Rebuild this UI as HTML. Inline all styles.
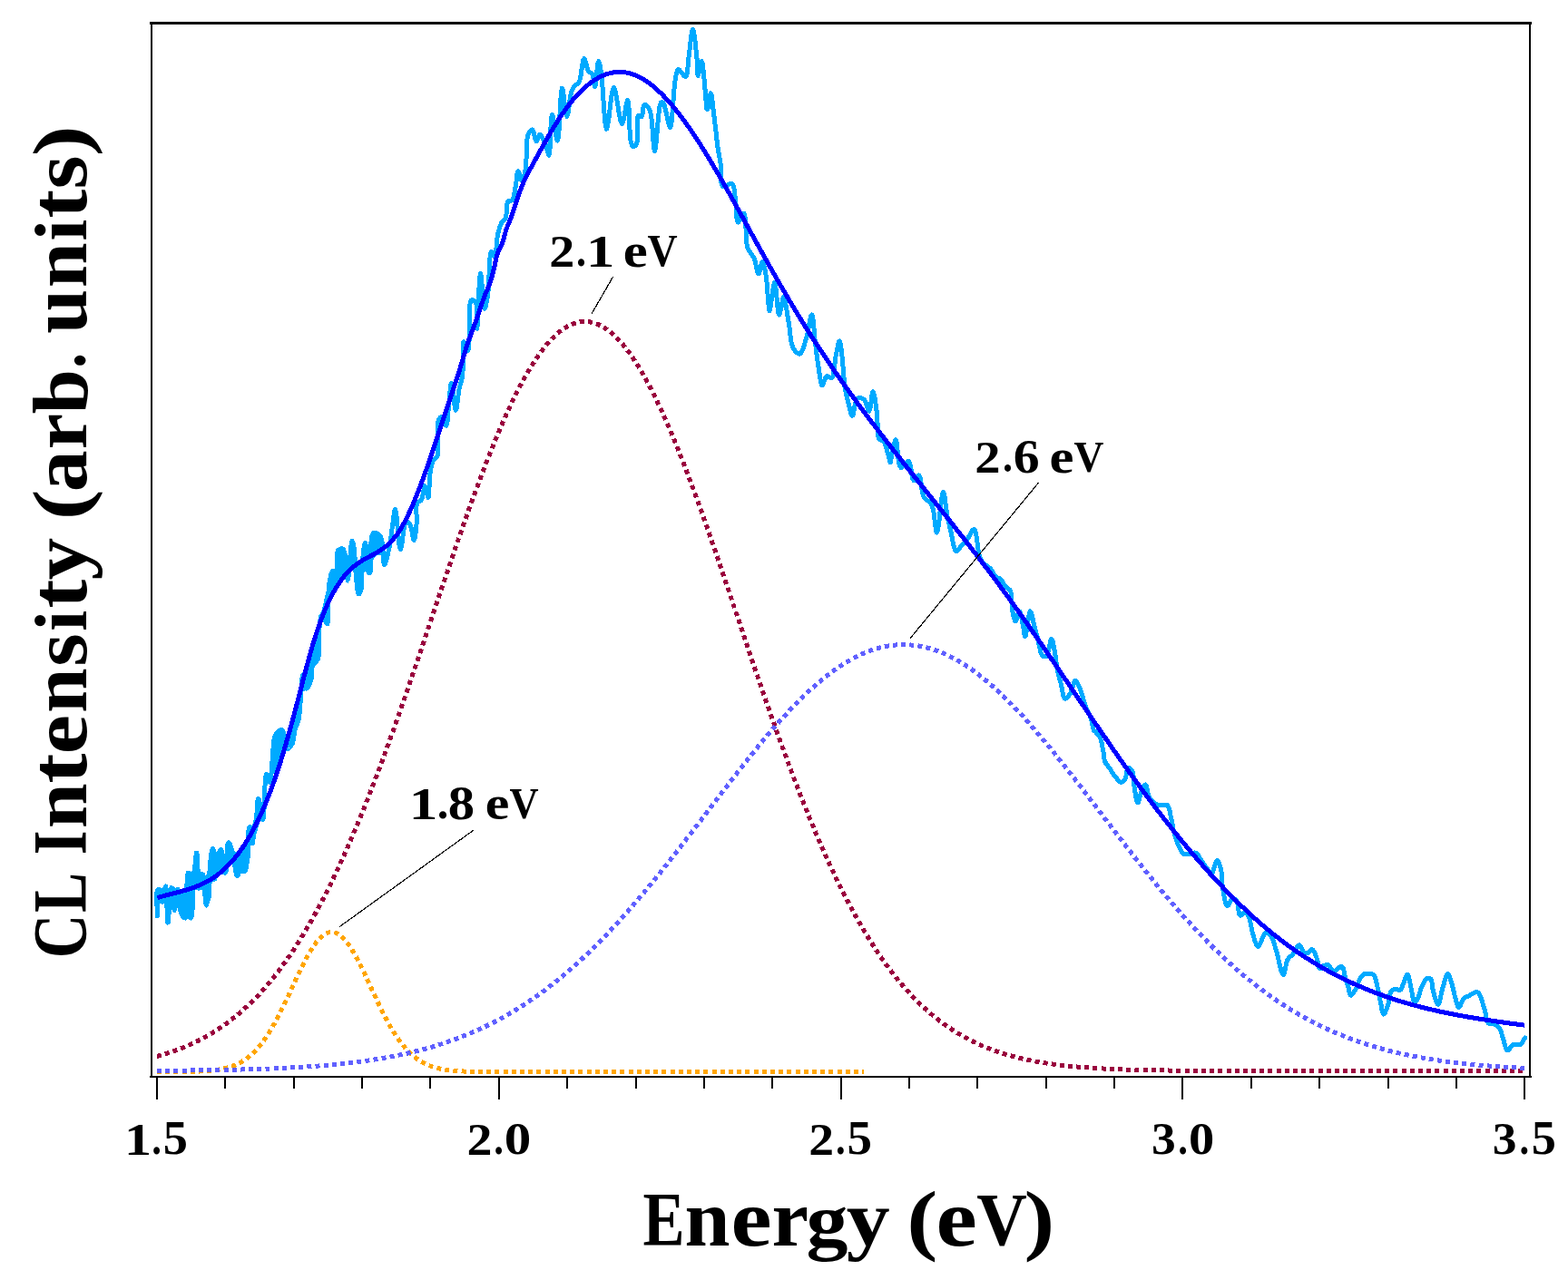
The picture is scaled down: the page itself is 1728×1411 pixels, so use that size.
<!DOCTYPE html>
<html><head><meta charset="utf-8"><title>CL spectrum</title><style>html,body{margin:0;padding:0;background:#fff;}svg{display:block;}</style></head><body>
<svg width="1728" height="1411" viewBox="0 0 1728 1411">
<rect x="0" y="0" width="1728" height="1411" fill="#ffffff"/>
<path d="M173.0 1164.3 L174.0 1164.1 L175.0 1163.8 L176.0 1163.5 L177.0 1163.2 L178.0 1162.9 L179.0 1162.6 L180.0 1162.3 L181.0 1162.0 L182.0 1161.7 L183.0 1161.4 L184.0 1161.1 L185.0 1160.8 L186.0 1160.5 L187.0 1160.2 L188.0 1159.8 L189.0 1159.5 L190.0 1159.1 L191.0 1158.8 L192.0 1158.4 L193.0 1158.1 L194.0 1157.7 L195.0 1157.4 L196.0 1157.0 L197.0 1156.6 L198.0 1156.2 L199.0 1155.9 L200.0 1155.5 L201.0 1155.1 L202.0 1154.7 L203.0 1154.3 L204.0 1153.8 L205.0 1153.4 L206.0 1153.0 L207.0 1152.6 L208.0 1152.1 L209.0 1151.7 L210.0 1151.2 L211.0 1150.8 L212.0 1150.3 L213.0 1149.9 L214.0 1149.4 L215.0 1148.9 L216.0 1148.4 L217.0 1148.0 L218.0 1147.5 L219.0 1147.0 L220.0 1146.4 L221.0 1145.9 L222.0 1145.4 L223.0 1144.9 L224.0 1144.3 L225.0 1143.8 L226.0 1143.3 L227.0 1142.7 L228.0 1142.1 L229.0 1141.6 L230.0 1141.0 L231.0 1140.4 L232.0 1139.8 L233.0 1139.2 L234.0 1138.6 L235.0 1138.0 L236.0 1137.4 L237.0 1136.8 L238.0 1136.1 L239.0 1135.5 L240.0 1134.8 L241.0 1134.2 L242.0 1133.5 L243.0 1132.8 L244.0 1132.2 L245.0 1131.5 L246.0 1130.8 L247.0 1130.1 L248.0 1129.3 L249.0 1128.6 L250.0 1127.9 L251.0 1127.2 L252.0 1126.4 L253.0 1125.7 L254.0 1124.9 L255.0 1124.1 L256.0 1123.3 L257.0 1122.5 L258.0 1121.7 L259.0 1120.9 L260.0 1120.1 L261.0 1119.3 L262.0 1118.5 L263.0 1117.6 L264.0 1116.8 L265.0 1115.9 L266.0 1115.0 L267.0 1114.1 L268.0 1113.3 L269.0 1112.4 L270.0 1111.4 L271.0 1110.5 L272.0 1109.6 L273.0 1108.7 L274.0 1107.7 L275.0 1106.7 L276.0 1105.8 L277.0 1104.8 L278.0 1103.8 L279.0 1102.8 L280.0 1101.8 L281.0 1100.8 L282.0 1099.7 L283.0 1098.7 L284.0 1097.7 L285.0 1096.6 L286.0 1095.5 L287.0 1094.4 L288.0 1093.3 L289.0 1092.2 L290.0 1091.1 L291.0 1090.0 L292.0 1088.9 L293.0 1087.7 L294.0 1086.5 L295.0 1085.4 L296.0 1084.2 L297.0 1083.0 L298.0 1081.8 L299.0 1080.6 L300.0 1079.3 L301.0 1078.1 L302.0 1076.9 L303.0 1075.6 L304.0 1074.3 L305.0 1073.0 L306.0 1071.7 L307.0 1070.4 L308.0 1069.1 L309.0 1067.8 L310.0 1066.4 L311.0 1065.1 L312.0 1063.7 L313.0 1062.3 L314.0 1060.9 L315.0 1059.5 L316.0 1058.1 L317.0 1056.7 L318.0 1055.2 L319.0 1053.8 L320.0 1052.3 L321.0 1050.8 L322.0 1049.4 L323.0 1047.9 L324.0 1046.3 L325.0 1044.8 L326.0 1043.3 L327.0 1041.7 L328.0 1040.1 L329.0 1038.6 L330.0 1037.0 L331.0 1035.4 L332.0 1033.8 L333.0 1032.1 L334.0 1030.5 L335.0 1028.8 L336.0 1027.2 L337.0 1025.5 L338.0 1023.8 L339.0 1022.1 L340.0 1020.4 L341.0 1018.6 L342.0 1016.9 L343.0 1015.1 L344.0 1013.4 L345.0 1011.6 L346.0 1009.8 L347.0 1008.0 L348.0 1006.1 L349.0 1004.3 L350.0 1002.5 L351.0 1000.6 L352.0 998.7 L353.0 996.8 L354.0 994.9 L355.0 993.0 L356.0 991.1 L357.0 989.2 L358.0 987.2 L359.0 985.2 L360.0 983.3 L361.0 981.3 L362.0 979.3 L363.0 977.2 L364.0 975.2 L365.0 973.2 L366.0 971.1 L367.0 969.0 L368.0 966.9 L369.0 964.9 L370.0 962.7 L371.0 960.6 L372.0 958.5 L373.0 956.3 L374.0 954.2 L375.0 952.0 L376.0 949.8 L377.0 947.6 L378.0 945.4 L379.0 943.2 L380.0 941.0 L381.0 938.7 L382.0 936.4 L383.0 934.2 L384.0 931.9 L385.0 929.6 L386.0 927.3 L387.0 925.0 L388.0 922.6 L389.0 920.3 L390.0 917.9 L391.0 915.5 L392.0 913.2 L393.0 910.8 L394.0 908.4 L395.0 905.9 L396.0 903.5 L397.0 901.1 L398.0 898.6 L399.0 896.1 L400.0 893.7 L401.0 891.2 L402.0 888.7 L403.0 886.2 L404.0 883.7 L405.0 881.1 L406.0 878.6 L407.0 876.0 L408.0 873.5 L409.0 870.9 L410.0 868.3 L411.0 865.7 L412.0 863.1 L413.0 860.5 L414.0 857.9 L415.0 855.2 L416.0 852.6 L417.0 849.9 L418.0 847.2 L419.0 844.6 L420.0 841.9 L421.0 839.2 L422.0 836.5 L423.0 833.8 L424.0 831.0 L425.0 828.3 L426.0 825.6 L427.0 822.8 L428.0 820.1 L429.0 817.3 L430.0 814.5 L431.0 811.7 L432.0 809.0 L433.0 806.2 L434.0 803.4 L435.0 800.5 L436.0 797.7 L437.0 794.9 L438.0 792.1 L439.0 789.2 L440.0 786.4 L441.0 783.5 L442.0 780.6 L443.0 777.8 L444.0 774.9 L445.0 772.0 L446.0 769.1 L447.0 766.2 L448.0 763.3 L449.0 760.4 L450.0 757.5 L451.0 754.6 L452.0 751.7 L453.0 748.8 L454.0 745.8 L455.0 742.9 L456.0 740.0 L457.0 737.0 L458.0 734.1 L459.0 731.1 L460.0 728.2 L461.0 725.2 L462.0 722.3 L463.0 719.3 L464.0 716.4 L465.0 713.4 L466.0 710.4 L467.0 707.5 L468.0 704.5 L469.0 701.5 L470.0 698.5 L471.0 695.6 L472.0 692.6 L473.0 689.6 L474.0 686.6 L475.0 683.6 L476.0 680.7 L477.0 677.7 L478.0 674.7 L479.0 671.7 L480.0 668.7 L481.0 665.8 L482.0 662.8 L483.0 659.8 L484.0 656.8 L485.0 653.9 L486.0 650.9 L487.0 647.9 L488.0 644.9 L489.0 642.0 L490.0 639.0 L491.0 636.1 L492.0 633.1 L493.0 630.2 L494.0 627.2 L495.0 624.3 L496.0 621.3 L497.0 618.4 L498.0 615.5 L499.0 612.5 L500.0 609.6 L501.0 606.7 L502.0 603.8 L503.0 600.9 L504.0 598.0 L505.0 595.1 L506.0 592.2 L507.0 589.3 L508.0 586.4 L509.0 583.6 L510.0 580.7 L511.0 577.9 L512.0 575.0 L513.0 572.2 L514.0 569.4 L515.0 566.5 L516.0 563.7 L517.0 560.9 L518.0 558.1 L519.0 555.4 L520.0 552.6 L521.0 549.8 L522.0 547.1 L523.0 544.3 L524.0 541.6 L525.0 538.9 L526.0 536.2 L527.0 533.5 L528.0 530.8 L529.0 528.1 L530.0 525.5 L531.0 522.8 L532.0 520.2 L533.0 517.6 L534.0 515.0 L535.0 512.4 L536.0 509.8 L537.0 507.2 L538.0 504.7 L539.0 502.1 L540.0 499.6 L541.0 497.1 L542.0 494.6 L543.0 492.1 L544.0 489.6 L545.0 487.2 L546.0 484.8 L547.0 482.3 L548.0 479.9 L549.0 477.6 L550.0 475.2 L551.0 472.8 L552.0 470.5 L553.0 468.2 L554.0 465.9 L555.0 463.6 L556.0 461.4 L557.0 459.1 L558.0 456.9 L559.0 454.7 L560.0 452.5 L561.0 450.3 L562.0 448.2 L563.0 446.1 L564.0 443.9 L565.0 441.9 L566.0 439.8 L567.0 437.7 L568.0 435.7 L569.0 433.7 L570.0 431.7 L571.0 429.8 L572.0 427.8 L573.0 425.9 L574.0 424.0 L575.0 422.1 L576.0 420.3 L577.0 418.4 L578.0 416.6 L579.0 414.8 L580.0 413.1 L581.0 411.3 L582.0 409.6 L583.0 407.9 L584.0 406.3 L585.0 404.6 L586.0 403.0 L587.0 401.4 L588.0 399.8 L589.0 398.3 L590.0 396.8 L591.0 395.3 L592.0 393.8 L593.0 392.3 L594.0 390.9 L595.0 389.5 L596.0 388.1 L597.0 386.8 L598.0 385.5 L599.0 384.2 L600.0 382.9 L601.0 381.7 L602.0 380.5 L603.0 379.3 L604.0 378.1 L605.0 377.0 L606.0 375.9 L607.0 374.8 L608.0 373.7 L609.0 372.7 L610.0 371.7 L611.0 370.7 L612.0 369.8 L613.0 368.9 L614.0 368.0 L615.0 367.1 L616.0 366.3 L617.0 365.5 L618.0 364.7 L619.0 363.9 L620.0 363.2 L621.0 362.5 L622.0 361.9 L623.0 361.2 L624.0 360.6 L625.0 360.0 L626.0 359.5 L627.0 359.0 L628.0 358.5 L629.0 358.0 L630.0 357.6 L631.0 357.1 L632.0 356.8 L633.0 356.4 L634.0 356.1 L635.0 355.8 L636.0 355.5 L637.0 355.3 L638.0 355.1 L639.0 354.9 L640.0 354.8 L641.0 354.7 L642.0 354.6 L643.0 354.5 L644.0 354.5 L645.0 354.5 L646.0 354.5 L647.0 354.6 L648.0 354.7 L649.0 354.8 L650.0 354.9 L651.0 355.1 L652.0 355.3 L653.0 355.6 L654.0 355.8 L655.0 356.1 L656.0 356.4 L657.0 356.8 L658.0 357.2 L659.0 357.6 L660.0 358.0 L661.0 358.5 L662.0 359.0 L663.0 359.5 L664.0 360.1 L665.0 360.6 L666.0 361.2 L667.0 361.9 L668.0 362.6 L669.0 363.2 L670.0 364.0 L671.0 364.7 L672.0 365.5 L673.0 366.3 L674.0 367.1 L675.0 368.0 L676.0 368.9 L677.0 369.8 L678.0 370.8 L679.0 371.7 L680.0 372.7 L681.0 373.8 L682.0 374.8 L683.0 375.9 L684.0 377.0 L685.0 378.2 L686.0 379.3 L687.0 380.5 L688.0 381.7 L689.0 383.0 L690.0 384.2 L691.0 385.5 L692.0 386.9 L693.0 388.2 L694.0 389.6 L695.0 391.0 L696.0 392.4 L697.0 393.9 L698.0 395.3 L699.0 396.8 L700.0 398.4 L701.0 399.9 L702.0 401.5 L703.0 403.1 L704.0 404.7 L705.0 406.4 L706.0 408.0 L707.0 409.7 L708.0 411.4 L709.0 413.2 L710.0 414.9 L711.0 416.7 L712.0 418.5 L713.0 420.4 L714.0 422.2 L715.0 424.1 L716.0 426.0 L717.0 427.9 L718.0 429.9 L719.0 431.8 L720.0 433.8 L721.0 435.8 L722.0 437.8 L723.0 439.9 L724.0 442.0 L725.0 444.1 L726.0 446.2 L727.0 448.3 L728.0 450.4 L729.0 452.6 L730.0 454.8 L731.0 457.0 L732.0 459.2 L733.0 461.5 L734.0 463.7 L735.0 466.0 L736.0 468.3 L737.0 470.6 L738.0 473.0 L739.0 475.3 L740.0 477.7 L741.0 480.1 L742.0 482.5 L743.0 484.9 L744.0 487.3 L745.0 489.8 L746.0 492.2 L747.0 494.7 L748.0 497.2 L749.0 499.7 L750.0 502.2 L751.0 504.8 L752.0 507.3 L753.0 509.9 L754.0 512.5 L755.0 515.1 L756.0 517.7 L757.0 520.3 L758.0 523.0 L759.0 525.6 L760.0 528.3 L761.0 530.9 L762.0 533.6 L763.0 536.3 L764.0 539.0 L765.0 541.7 L766.0 544.5 L767.0 547.2 L768.0 550.0 L769.0 552.7 L770.0 555.5 L771.0 558.3 L772.0 561.1 L773.0 563.9 L774.0 566.7 L775.0 569.5 L776.0 572.3 L777.0 575.2 L778.0 578.0 L779.0 580.9 L780.0 583.7 L781.0 586.6 L782.0 589.5 L783.0 592.3 L784.0 595.2 L785.0 598.1 L786.0 601.0 L787.0 603.9 L788.0 606.8 L789.0 609.8 L790.0 612.7 L791.0 615.6 L792.0 618.5 L793.0 621.5 L794.0 624.4 L795.0 627.4 L796.0 630.3 L797.0 633.3 L798.0 636.2 L799.0 639.2 L800.0 642.1 L801.0 645.1 L802.0 648.1 L803.0 651.0 L804.0 654.0 L805.0 657.0 L806.0 660.0 L807.0 662.9 L808.0 665.9 L809.0 668.9 L810.0 671.9 L811.0 674.9 L812.0 677.8 L813.0 680.8 L814.0 683.8 L815.0 686.8 L816.0 689.8 L817.0 692.7 L818.0 695.7 L819.0 698.7 L820.0 701.7 L821.0 704.6 L822.0 707.6 L823.0 710.6 L824.0 713.5 L825.0 716.5 L826.0 719.5 L827.0 722.4 L828.0 725.4 L829.0 728.3 L830.0 731.3 L831.0 734.2 L832.0 737.2 L833.0 740.1 L834.0 743.1 L835.0 746.0 L836.0 748.9 L837.0 751.9 L838.0 754.8 L839.0 757.7 L840.0 760.6 L841.0 763.5 L842.0 766.4 L843.0 769.3 L844.0 772.2 L845.0 775.1 L846.0 777.9 L847.0 780.8 L848.0 783.7 L849.0 786.5 L850.0 789.4 L851.0 792.2 L852.0 795.0 L853.0 797.9 L854.0 800.7 L855.0 803.5 L856.0 806.3 L857.0 809.1 L858.0 811.9 L859.0 814.7 L860.0 817.4 L861.0 820.2 L862.0 823.0 L863.0 825.7 L864.0 828.5 L865.0 831.2 L866.0 833.9 L867.0 836.6 L868.0 839.3 L869.0 842.0 L870.0 844.7 L871.0 847.4 L872.0 850.0 L873.0 852.7 L874.0 855.4 L875.0 858.0 L876.0 860.6 L877.0 863.2 L878.0 865.8 L879.0 868.4 L880.0 871.0 L881.0 873.6 L882.0 876.2 L883.0 878.7 L884.0 881.3 L885.0 883.8 L886.0 886.3 L887.0 888.8 L888.0 891.3 L889.0 893.8 L890.0 896.3 L891.0 898.7 L892.0 901.2 L893.0 903.6 L894.0 906.1 L895.0 908.5 L896.0 910.9 L897.0 913.3 L898.0 915.7 L899.0 918.0 L900.0 920.4 L901.0 922.7 L902.0 925.1 L903.0 927.4 L904.0 929.7 L905.0 932.0 L906.0 934.3 L907.0 936.6 L908.0 938.8 L909.0 941.1 L910.0 943.3 L911.0 945.5 L912.0 947.7 L913.0 949.9 L914.0 952.1 L915.0 954.3 L916.0 956.5 L917.0 958.6 L918.0 960.7 L919.0 962.9 L920.0 965.0 L921.0 967.1 L922.0 969.1 L923.0 971.2 L924.0 973.3 L925.0 975.3 L926.0 977.3 L927.0 979.4 L928.0 981.4 L929.0 983.4 L930.0 985.3 L931.0 987.3 L932.0 989.3 L933.0 991.2 L934.0 993.1 L935.0 995.0 L936.0 996.9 L937.0 998.8 L938.0 1000.7 L939.0 1002.6 L940.0 1004.4 L941.0 1006.2 L942.0 1008.1 L943.0 1009.9 L944.0 1011.7 L945.0 1013.5 L946.0 1015.2 L947.0 1017.0 L948.0 1018.7 L949.0 1020.5 L950.0 1022.2 L951.0 1023.9 L952.0 1025.6 L953.0 1027.3 L954.0 1028.9 L955.0 1030.6 L956.0 1032.2 L957.0 1033.8 L958.0 1035.5 L959.0 1037.1 L960.0 1038.7 L961.0 1040.2 L962.0 1041.8 L963.0 1043.3 L964.0 1044.9 L965.0 1046.4 L966.0 1047.9 L967.0 1049.4 L968.0 1050.9 L969.0 1052.4 L970.0 1053.9 L971.0 1055.3 L972.0 1056.8 L973.0 1058.2 L974.0 1059.6 L975.0 1061.0 L976.0 1062.4 L977.0 1063.8 L978.0 1065.1 L979.0 1066.5 L980.0 1067.8 L981.0 1069.2 L982.0 1070.5 L983.0 1071.8 L984.0 1073.1 L985.0 1074.4 L986.0 1075.7 L987.0 1076.9 L988.0 1078.2 L989.0 1079.4 L990.0 1080.6 L991.0 1081.9 L992.0 1083.1 L993.0 1084.3 L994.0 1085.4 L995.0 1086.6 L996.0 1087.8 L997.0 1088.9 L998.0 1090.0 L999.0 1091.2 L1000.0 1092.3 L1001.0 1093.4 L1002.0 1094.5 L1003.0 1095.6 L1004.0 1096.6 L1005.0 1097.7 L1006.0 1098.8 L1007.0 1099.8 L1008.0 1100.8 L1009.0 1101.8 L1010.0 1102.9 L1011.0 1103.9 L1012.0 1104.8 L1013.0 1105.8 L1014.0 1106.8 L1015.0 1107.8 L1016.0 1108.7 L1017.0 1109.6 L1018.0 1110.6 L1019.0 1111.5 L1020.0 1112.4 L1021.0 1113.3 L1022.0 1114.2 L1023.0 1115.1 L1024.0 1115.9 L1025.0 1116.8 L1026.0 1117.7 L1027.0 1118.5 L1028.0 1119.3 L1029.0 1120.2 L1030.0 1121.0 L1031.0 1121.8 L1032.0 1122.6 L1033.0 1123.4 L1034.0 1124.2 L1035.0 1124.9 L1036.0 1125.7 L1037.0 1126.4 L1038.0 1127.2 L1039.0 1127.9 L1040.0 1128.7 L1041.0 1129.4 L1042.0 1130.1 L1043.0 1130.8 L1044.0 1131.5 L1045.0 1132.2 L1046.0 1132.9 L1047.0 1133.5 L1048.0 1134.2 L1049.0 1134.9 L1050.0 1135.5 L1051.0 1136.2 L1052.0 1136.8 L1053.0 1137.4 L1054.0 1138.0 L1055.0 1138.6 L1056.0 1139.3 L1057.0 1139.9 L1058.0 1140.4 L1059.0 1141.0 L1060.0 1141.6 L1061.0 1142.2 L1062.0 1142.7 L1063.0 1143.3 L1064.0 1143.8 L1065.0 1144.4 L1066.0 1144.9 L1067.0 1145.4 L1068.0 1146.0 L1069.0 1146.5 L1070.0 1147.0 L1071.0 1147.5 L1072.0 1148.0 L1073.0 1148.5 L1074.0 1148.9 L1075.0 1149.4 L1076.0 1149.9 L1077.0 1150.4 L1078.0 1150.8 L1079.0 1151.3 L1080.0 1151.7 L1081.0 1152.2 L1082.0 1152.6 L1083.0 1153.0 L1084.0 1153.4 L1085.0 1153.9 L1086.0 1154.3 L1087.0 1154.7 L1088.0 1155.1 L1089.0 1155.5 L1090.0 1155.9 L1091.0 1156.3 L1092.0 1156.6 L1093.0 1157.0 L1094.0 1157.4 L1095.0 1157.7 L1096.0 1158.1 L1097.0 1158.5 L1098.0 1158.8 L1099.0 1159.2 L1100.0 1159.5 L1101.0 1159.8 L1102.0 1160.2 L1103.0 1160.5 L1104.0 1160.8 L1105.0 1161.1 L1106.0 1161.5 L1107.0 1161.8 L1108.0 1162.1 L1109.0 1162.4 L1110.0 1162.7 L1111.0 1163.0 L1112.0 1163.2 L1113.0 1163.5 L1114.0 1163.8 L1115.0 1164.1 L1116.0 1164.4 L1117.0 1164.6 L1118.0 1164.9 L1119.0 1165.1 L1120.0 1165.4 L1121.0 1165.6 L1122.0 1165.9 L1123.0 1166.1 L1124.0 1166.4 L1125.0 1166.6 L1126.0 1166.9 L1127.0 1167.1 L1128.0 1167.3 L1129.0 1167.5 L1130.0 1167.8 L1131.0 1168.0 L1132.0 1168.2 L1133.0 1168.4 L1134.0 1168.6 L1135.0 1168.8 L1136.0 1169.0 L1137.0 1169.2 L1138.0 1169.4 L1139.0 1169.6 L1140.0 1169.8 L1141.0 1170.0 L1142.0 1170.2 L1143.0 1170.3 L1144.0 1170.5 L1145.0 1170.7 L1146.0 1170.9 L1147.0 1171.0 L1148.0 1171.2 L1149.0 1171.4 L1150.0 1171.5 L1151.0 1171.7 L1152.0 1171.8 L1153.0 1172.0 L1154.0 1172.2 L1155.0 1172.3 L1156.0 1172.4 L1157.0 1172.6 L1158.0 1172.7 L1159.0 1172.9 L1160.0 1173.0 L1161.0 1173.1 L1162.0 1173.3 L1163.0 1173.4 L1164.0 1173.5 L1165.0 1173.7 L1166.0 1173.8 L1167.0 1173.9 L1168.0 1174.0 L1169.0 1174.2 L1170.0 1174.3 L1171.0 1174.4 L1172.0 1174.5 L1173.0 1174.6 L1174.0 1174.7 L1175.0 1174.8 L1176.0 1174.9 L1177.0 1175.0 L1178.0 1175.1 L1179.0 1175.2 L1180.0 1175.3 L1181.0 1175.4 L1182.0 1175.5 L1183.0 1175.6 L1184.0 1175.7 L1185.0 1175.8 L1186.0 1175.9 L1187.0 1176.0 L1188.0 1176.1 L1189.0 1176.2 L1190.0 1176.2 L1191.0 1176.3 L1192.0 1176.4 L1193.0 1176.5 L1194.0 1176.6 L1195.0 1176.6 L1196.0 1176.7 L1197.0 1176.8 L1198.0 1176.9 L1199.0 1176.9 L1200.0 1177.0 L1201.0 1177.1 L1202.0 1177.1 L1203.0 1177.2 L1204.0 1177.3 L1205.0 1177.3 L1206.0 1177.4 L1207.0 1177.4 L1208.0 1177.5 L1209.0 1177.6 L1210.0 1177.6 L1211.0 1177.7 L1212.0 1177.7 L1213.0 1177.8 L1214.0 1177.8 L1215.0 1177.9 L1216.0 1178.0 L1217.0 1178.0 L1218.0 1178.1 L1219.0 1178.1 L1220.0 1178.1 L1221.0 1178.2 L1222.0 1178.2 L1223.0 1178.3 L1224.0 1178.3 L1225.0 1178.4 L1226.0 1178.4 L1227.0 1178.5 L1228.0 1178.5 L1229.0 1178.5 L1230.0 1178.6 L1231.0 1178.6 L1232.0 1178.7 L1233.0 1178.7 L1234.0 1178.7 L1235.0 1178.8 L1236.0 1178.8 L1237.0 1178.8 L1238.0 1178.9 L1239.0 1178.9 L1240.0 1178.9 L1241.0 1179.0 L1242.0 1179.0 L1243.0 1179.0 L1244.0 1179.1 L1245.0 1179.1 L1246.0 1179.1 L1247.0 1179.2 L1248.0 1179.2 L1249.0 1179.2 L1250.0 1179.2 L1251.0 1179.3 L1252.0 1179.3 L1253.0 1179.3 L1254.0 1179.3 L1255.0 1179.4 L1256.0 1179.4 L1257.0 1179.4 L1258.0 1179.4 L1259.0 1179.5 L1260.0 1179.5 L1261.0 1179.5 L1262.0 1179.5 L1263.0 1179.6 L1264.0 1179.6 L1265.0 1179.6 L1266.0 1179.6 L1267.0 1179.6 L1268.0 1179.7 L1269.0 1179.7 L1270.0 1179.7 L1271.0 1179.7 L1272.0 1179.7 L1273.0 1179.7 L1274.0 1179.8 L1275.0 1179.8 L1276.0 1179.8 L1277.0 1179.8 L1278.0 1179.8 L1279.0 1179.8 L1280.0 1179.9 L1281.0 1179.9 L1282.0 1179.9 L1283.0 1179.9 L1284.0 1179.9 L1285.0 1179.9 L1286.0 1179.9 L1287.0 1179.9 L1288.0 1180.0 L1289.0 1180.0 L1290.0 1180.0 L1291.0 1180.0 L1292.0 1180.0 L1293.0 1180.0 L1294.0 1180.0 L1295.0 1180.0 L1296.0 1180.0 L1297.0 1180.1 L1298.0 1180.1 L1299.0 1180.1 L1300.0 1180.1 L1301.0 1180.1 L1302.0 1180.1 L1303.0 1180.1 L1304.0 1180.1 L1305.0 1180.1 L1306.0 1180.1 L1307.0 1180.2 L1308.0 1180.2 L1309.0 1180.2 L1310.0 1180.2 L1311.0 1180.2 L1312.0 1180.2 L1313.0 1180.2 L1314.0 1180.2 L1315.0 1180.2 L1316.0 1180.2 L1317.0 1180.2 L1318.0 1180.2 L1319.0 1180.2 L1320.0 1180.2 L1321.0 1180.2 L1322.0 1180.3 L1323.0 1180.3 L1324.0 1180.3 L1325.0 1180.3 L1326.0 1180.3 L1327.0 1180.3 L1328.0 1180.3 L1329.0 1180.3 L1330.0 1180.3 L1331.0 1180.3 L1332.0 1180.3 L1333.0 1180.3 L1334.0 1180.3 L1335.0 1180.3 L1336.0 1180.3 L1337.0 1180.3 L1338.0 1180.3 L1339.0 1180.3 L1340.0 1180.3 L1341.0 1180.3 L1342.0 1180.3 L1343.0 1180.4 L1344.0 1180.4 L1345.0 1180.4 L1346.0 1180.4 L1347.0 1180.4 L1348.0 1180.4 L1349.0 1180.4 L1350.0 1180.4 L1351.0 1180.4 L1352.0 1180.4 L1353.0 1180.4 L1354.0 1180.4 L1355.0 1180.4 L1356.0 1180.4 L1357.0 1180.4 L1358.0 1180.4 L1359.0 1180.4 L1360.0 1180.4 L1361.0 1180.4 L1362.0 1180.4 L1363.0 1180.4 L1364.0 1180.4 L1365.0 1180.4 L1366.0 1180.4 L1367.0 1180.4 L1368.0 1180.4 L1369.0 1180.4 L1370.0 1180.4 L1371.0 1180.4 L1372.0 1180.4 L1373.0 1180.4 L1374.0 1180.4 L1375.0 1180.4 L1376.0 1180.4 L1377.0 1180.4 L1378.0 1180.4 L1379.0 1180.4 L1380.0 1180.4 L1381.0 1180.4 L1382.0 1180.4 L1383.0 1180.4 L1384.0 1180.4 L1385.0 1180.4 L1386.0 1180.5 L1387.0 1180.5 L1388.0 1180.5 L1389.0 1180.5 L1390.0 1180.5 L1391.0 1180.5 L1392.0 1180.5 L1393.0 1180.5 L1394.0 1180.5 L1395.0 1180.5 L1396.0 1180.5 L1397.0 1180.5 L1398.0 1180.5 L1399.0 1180.5 L1400.0 1180.5 L1401.0 1180.5 L1402.0 1180.5 L1403.0 1180.5 L1404.0 1180.5 L1405.0 1180.5 L1406.0 1180.5 L1407.0 1180.5 L1408.0 1180.5 L1409.0 1180.5 L1410.0 1180.5 L1411.0 1180.5 L1412.0 1180.5 L1413.0 1180.5 L1414.0 1180.5 L1415.0 1180.5 L1416.0 1180.5 L1417.0 1180.5 L1418.0 1180.5 L1419.0 1180.5 L1420.0 1180.5 L1421.0 1180.5 L1422.0 1180.5 L1423.0 1180.5 L1424.0 1180.5 L1425.0 1180.5 L1426.0 1180.5 L1427.0 1180.5 L1428.0 1180.5 L1429.0 1180.5 L1430.0 1180.5 L1431.0 1180.5 L1432.0 1180.5 L1433.0 1180.5 L1434.0 1180.5 L1435.0 1180.5 L1436.0 1180.5 L1437.0 1180.5 L1438.0 1180.5 L1439.0 1180.5 L1440.0 1180.5 L1441.0 1180.5 L1442.0 1180.5 L1443.0 1180.5 L1444.0 1180.5 L1445.0 1180.5 L1446.0 1180.5 L1447.0 1180.5 L1448.0 1180.5 L1449.0 1180.5 L1450.0 1180.5 L1451.0 1180.5 L1452.0 1180.5 L1453.0 1180.5 L1454.0 1180.5 L1455.0 1180.5 L1456.0 1180.5 L1457.0 1180.5 L1458.0 1180.5 L1459.0 1180.5 L1460.0 1180.5 L1461.0 1180.5 L1462.0 1180.5 L1463.0 1180.5 L1464.0 1180.5 L1465.0 1180.5 L1466.0 1180.5 L1467.0 1180.5 L1468.0 1180.5 L1469.0 1180.5 L1470.0 1180.5 L1471.0 1180.5 L1472.0 1180.5 L1473.0 1180.5 L1474.0 1180.5 L1475.0 1180.5 L1476.0 1180.5 L1477.0 1180.5 L1478.0 1180.5 L1479.0 1180.5 L1480.0 1180.5 L1481.0 1180.5 L1482.0 1180.5 L1483.0 1180.5 L1484.0 1180.5 L1485.0 1180.5 L1486.0 1180.5 L1487.0 1180.5 L1488.0 1180.5 L1489.0 1180.5 L1490.0 1180.5 L1491.0 1180.5 L1492.0 1180.5 L1493.0 1180.5 L1494.0 1180.5 L1495.0 1180.5 L1496.0 1180.5 L1497.0 1180.5 L1498.0 1180.5 L1499.0 1180.5 L1500.0 1180.5 L1501.0 1180.5 L1502.0 1180.5 L1503.0 1180.5 L1504.0 1180.5 L1505.0 1180.5 L1506.0 1180.5 L1507.0 1180.5 L1508.0 1180.5 L1509.0 1180.5 L1510.0 1180.5 L1511.0 1180.5 L1512.0 1180.5 L1513.0 1180.5 L1514.0 1180.5 L1515.0 1180.5 L1516.0 1180.5 L1517.0 1180.5 L1518.0 1180.5 L1519.0 1180.5 L1520.0 1180.5 L1521.0 1180.5 L1522.0 1180.5 L1523.0 1180.5 L1524.0 1180.5 L1525.0 1180.5 L1526.0 1180.5 L1527.0 1180.5 L1528.0 1180.5 L1529.0 1180.5 L1530.0 1180.5 L1531.0 1180.5 L1532.0 1180.5 L1533.0 1180.5 L1534.0 1180.5 L1535.0 1180.5 L1536.0 1180.5 L1537.0 1180.5 L1538.0 1180.5 L1539.0 1180.5 L1540.0 1180.5 L1541.0 1180.5 L1542.0 1180.5 L1543.0 1180.5 L1544.0 1180.5 L1545.0 1180.5 L1546.0 1180.5 L1547.0 1180.5 L1548.0 1180.5 L1549.0 1180.5 L1550.0 1180.5 L1551.0 1180.5 L1552.0 1180.5 L1553.0 1180.5 L1554.0 1180.5 L1555.0 1180.5 L1556.0 1180.5 L1557.0 1180.5 L1558.0 1180.5 L1559.0 1180.5 L1560.0 1180.5 L1561.0 1180.5 L1562.0 1180.5 L1563.0 1180.5 L1564.0 1180.5 L1565.0 1180.5 L1566.0 1180.5 L1567.0 1180.5 L1568.0 1180.5 L1569.0 1180.5 L1570.0 1180.5 L1571.0 1180.5 L1572.0 1180.5 L1573.0 1180.5 L1574.0 1180.5 L1575.0 1180.5 L1576.0 1180.5 L1577.0 1180.5 L1578.0 1180.5 L1579.0 1180.5 L1580.0 1180.5 L1581.0 1180.5 L1582.0 1180.5 L1583.0 1180.5 L1584.0 1180.5 L1585.0 1180.5 L1586.0 1180.5 L1587.0 1180.5 L1588.0 1180.5 L1589.0 1180.5 L1590.0 1180.5 L1591.0 1180.5 L1592.0 1180.5 L1593.0 1180.5 L1594.0 1180.5 L1595.0 1180.5 L1596.0 1180.5 L1597.0 1180.5 L1598.0 1180.5 L1599.0 1180.5 L1600.0 1180.5 L1601.0 1180.5 L1602.0 1180.5 L1603.0 1180.5 L1604.0 1180.5 L1605.0 1180.5 L1606.0 1180.5 L1607.0 1180.5 L1608.0 1180.5 L1609.0 1180.5 L1610.0 1180.5 L1611.0 1180.5 L1612.0 1180.5 L1613.0 1180.5 L1614.0 1180.5 L1615.0 1180.5 L1616.0 1180.5 L1617.0 1180.5 L1618.0 1180.5 L1619.0 1180.5 L1620.0 1180.5 L1621.0 1180.5 L1622.0 1180.5 L1623.0 1180.5 L1624.0 1180.5 L1625.0 1180.5 L1626.0 1180.5 L1627.0 1180.5 L1628.0 1180.5 L1629.0 1180.5 L1630.0 1180.5 L1631.0 1180.5 L1632.0 1180.5 L1633.0 1180.5 L1634.0 1180.5 L1635.0 1180.5 L1636.0 1180.5 L1637.0 1180.5 L1638.0 1180.5 L1639.0 1180.5 L1640.0 1180.5 L1641.0 1180.5 L1642.0 1180.5 L1643.0 1180.5 L1644.0 1180.5 L1645.0 1180.5 L1646.0 1180.5 L1647.0 1180.5 L1648.0 1180.5 L1649.0 1180.5 L1650.0 1180.5 L1651.0 1180.5 L1652.0 1180.5 L1653.0 1180.5 L1654.0 1180.5 L1655.0 1180.5 L1656.0 1180.5 L1657.0 1180.5 L1658.0 1180.5 L1659.0 1180.5 L1660.0 1180.5 L1661.0 1180.5 L1662.0 1180.5 L1663.0 1180.5 L1664.0 1180.5 L1665.0 1180.5 L1666.0 1180.5 L1667.0 1180.5 L1668.0 1180.5 L1669.0 1180.5 L1670.0 1180.5 L1671.0 1180.5 L1672.0 1180.5 L1673.0 1180.5 L1674.0 1180.5 L1675.0 1180.5 L1676.0 1180.5 L1677.0 1180.5 L1678.0 1180.5 L1679.0 1180.5 L1680.0 1180.5 L1681.0 1180.5" fill="none" stroke="#99003D" stroke-width="5" stroke-dasharray="5 4.2" shape-rendering="crispEdges"/>
<path d="M173.0 1181.5 L174.0 1181.5 L175.0 1181.5 L176.0 1181.5 L177.0 1181.5 L178.0 1181.5 L179.0 1181.5 L180.0 1181.5 L181.0 1181.5 L182.0 1181.5 L183.0 1181.5 L184.0 1181.5 L185.0 1181.5 L186.0 1181.5 L187.0 1181.5 L188.0 1181.5 L189.0 1181.5 L190.0 1181.5 L191.0 1181.5 L192.0 1181.5 L193.0 1181.4 L194.0 1181.4 L195.0 1181.4 L196.0 1181.4 L197.0 1181.4 L198.0 1181.4 L199.0 1181.4 L200.0 1181.4 L201.0 1181.4 L202.0 1181.4 L203.0 1181.4 L204.0 1181.4 L205.0 1181.3 L206.0 1181.3 L207.0 1181.3 L208.0 1181.3 L209.0 1181.3 L210.0 1181.3 L211.0 1181.2 L212.0 1181.2 L213.0 1181.2 L214.0 1181.2 L215.0 1181.1 L216.0 1181.1 L217.0 1181.1 L218.0 1181.0 L219.0 1181.0 L220.0 1181.0 L221.0 1180.9 L222.0 1180.9 L223.0 1180.8 L224.0 1180.8 L225.0 1180.7 L226.0 1180.7 L227.0 1180.6 L228.0 1180.5 L229.0 1180.4 L230.0 1180.4 L231.0 1180.3 L232.0 1180.2 L233.0 1180.1 L234.0 1180.0 L235.0 1179.9 L236.0 1179.8 L237.0 1179.6 L238.0 1179.5 L239.0 1179.4 L240.0 1179.2 L241.0 1179.1 L242.0 1178.9 L243.0 1178.7 L244.0 1178.5 L245.0 1178.3 L246.0 1178.1 L247.0 1177.9 L248.0 1177.7 L249.0 1177.4 L250.0 1177.2 L251.0 1176.9 L252.0 1176.6 L253.0 1176.3 L254.0 1176.0 L255.0 1175.6 L256.0 1175.3 L257.0 1174.9 L258.0 1174.5 L259.0 1174.1 L260.0 1173.6 L261.0 1173.2 L262.0 1172.7 L263.0 1172.2 L264.0 1171.7 L265.0 1171.2 L266.0 1170.6 L267.0 1170.0 L268.0 1169.4 L269.0 1168.7 L270.0 1168.1 L271.0 1167.4 L272.0 1166.6 L273.0 1165.9 L274.0 1165.1 L275.0 1164.3 L276.0 1163.4 L277.0 1162.5 L278.0 1161.6 L279.0 1160.7 L280.0 1159.7 L281.0 1158.7 L282.0 1157.6 L283.0 1156.5 L284.0 1155.4 L285.0 1154.2 L286.0 1153.1 L287.0 1151.8 L288.0 1150.6 L289.0 1149.3 L290.0 1147.9 L291.0 1146.5 L292.0 1145.1 L293.0 1143.7 L294.0 1142.2 L295.0 1140.7 L296.0 1139.1 L297.0 1137.5 L298.0 1135.9 L299.0 1134.2 L300.0 1132.5 L301.0 1130.8 L302.0 1129.0 L303.0 1127.2 L304.0 1125.4 L305.0 1123.6 L306.0 1121.7 L307.0 1119.7 L308.0 1117.8 L309.0 1115.8 L310.0 1113.8 L311.0 1111.8 L312.0 1109.8 L313.0 1107.7 L314.0 1105.6 L315.0 1103.5 L316.0 1101.4 L317.0 1099.3 L318.0 1097.1 L319.0 1095.0 L320.0 1092.8 L321.0 1090.7 L322.0 1088.5 L323.0 1086.4 L324.0 1084.2 L325.0 1082.0 L326.0 1079.9 L327.0 1077.8 L328.0 1075.6 L329.0 1073.5 L330.0 1071.4 L331.0 1069.3 L332.0 1067.3 L333.0 1065.3 L334.0 1063.3 L335.0 1061.3 L336.0 1059.3 L337.0 1057.4 L338.0 1055.6 L339.0 1053.7 L340.0 1051.9 L341.0 1050.2 L342.0 1048.5 L343.0 1046.9 L344.0 1045.3 L345.0 1043.7 L346.0 1042.3 L347.0 1040.9 L348.0 1039.5 L349.0 1038.2 L350.0 1037.0 L351.0 1035.8 L352.0 1034.7 L353.0 1033.7 L354.0 1032.8 L355.0 1031.9 L356.0 1031.1 L357.0 1030.4 L358.0 1029.7 L359.0 1029.2 L360.0 1028.7 L361.0 1028.3 L362.0 1028.0 L363.0 1027.7 L364.0 1027.6 L365.0 1027.5 L366.0 1027.5 L367.0 1027.6 L368.0 1027.8 L369.0 1028.0 L370.0 1028.4 L371.0 1028.8 L372.0 1029.3 L373.0 1029.9 L374.0 1030.5 L375.0 1031.3 L376.0 1032.1 L377.0 1033.0 L378.0 1033.9 L379.0 1034.9 L380.0 1036.0 L381.0 1037.2 L382.0 1038.5 L383.0 1039.8 L384.0 1041.1 L385.0 1042.6 L386.0 1044.1 L387.0 1045.6 L388.0 1047.2 L389.0 1048.8 L390.0 1050.5 L391.0 1052.3 L392.0 1054.1 L393.0 1055.9 L394.0 1057.8 L395.0 1059.7 L396.0 1061.7 L397.0 1063.6 L398.0 1065.7 L399.0 1067.7 L400.0 1069.8 L401.0 1071.8 L402.0 1073.9 L403.0 1076.1 L404.0 1078.2 L405.0 1080.3 L406.0 1082.5 L407.0 1084.6 L408.0 1086.8 L409.0 1089.0 L410.0 1091.1 L411.0 1093.3 L412.0 1095.4 L413.0 1097.6 L414.0 1099.7 L415.0 1101.8 L416.0 1103.9 L417.0 1106.0 L418.0 1108.1 L419.0 1110.2 L420.0 1112.2 L421.0 1114.2 L422.0 1116.2 L423.0 1118.2 L424.0 1120.1 L425.0 1122.0 L426.0 1123.9 L427.0 1125.8 L428.0 1127.6 L429.0 1129.4 L430.0 1131.2 L431.0 1132.9 L432.0 1134.6 L433.0 1136.2 L434.0 1137.9 L435.0 1139.4 L436.0 1141.0 L437.0 1142.5 L438.0 1144.0 L439.0 1145.4 L440.0 1146.8 L441.0 1148.2 L442.0 1149.5 L443.0 1150.8 L444.0 1152.1 L445.0 1153.3 L446.0 1154.5 L447.0 1155.6 L448.0 1156.7 L449.0 1157.8 L450.0 1158.9 L451.0 1159.9 L452.0 1160.9 L453.0 1161.8 L454.0 1162.7 L455.0 1163.6 L456.0 1164.4 L457.0 1165.2 L458.0 1166.0 L459.0 1166.8 L460.0 1167.5 L461.0 1168.2 L462.0 1168.9 L463.0 1169.5 L464.0 1170.1 L465.0 1170.7 L466.0 1171.3 L467.0 1171.8 L468.0 1172.3 L469.0 1172.8 L470.0 1173.3 L471.0 1173.7 L472.0 1174.2 L473.0 1174.6 L474.0 1175.0 L475.0 1175.3 L476.0 1175.7 L477.0 1176.0 L478.0 1176.3 L479.0 1176.6 L480.0 1176.9 L481.0 1177.2 L482.0 1177.5 L483.0 1177.7 L484.0 1177.9 L485.0 1178.2 L486.0 1178.4 L487.0 1178.6 L488.0 1178.8 L489.0 1178.9 L490.0 1179.1 L491.0 1179.3 L492.0 1179.4 L493.0 1179.5 L494.0 1179.7 L495.0 1179.8 L496.0 1179.9 L497.0 1180.0 L498.0 1180.1 L499.0 1180.2 L500.0 1180.3 L501.0 1180.4 L502.0 1180.5 L503.0 1180.5 L504.0 1180.6 L505.0 1180.7 L506.0 1180.7 L507.0 1180.8 L508.0 1180.8 L509.0 1180.9 L510.0 1180.9 L511.0 1181.0 L512.0 1181.0 L513.0 1181.1 L514.0 1181.1 L515.0 1181.1 L516.0 1181.1 L517.0 1181.2 L518.0 1181.2 L519.0 1181.2 L520.0 1181.2 L521.0 1181.3 L522.0 1181.3 L523.0 1181.3 L524.0 1181.3 L525.0 1181.3 L526.0 1181.3 L527.0 1181.4 L528.0 1181.4 L529.0 1181.4 L530.0 1181.4 L531.0 1181.4 L532.0 1181.4 L533.0 1181.4 L534.0 1181.4 L535.0 1181.4 L536.0 1181.4 L537.0 1181.4 L538.0 1181.4 L539.0 1181.5 L540.0 1181.5 L541.0 1181.5 L542.0 1181.5 L543.0 1181.5 L544.0 1181.5 L545.0 1181.5 L546.0 1181.5 L547.0 1181.5 L548.0 1181.5 L549.0 1181.5 L550.0 1181.5 L551.0 1181.5 L552.0 1181.5 L553.0 1181.5 L554.0 1181.5 L555.0 1181.5 L556.0 1181.5 L557.0 1181.5 L558.0 1181.5 L559.0 1181.5 L560.0 1181.5 L561.0 1181.5 L562.0 1181.5 L563.0 1181.5 L564.0 1181.5 L565.0 1181.5 L566.0 1181.5 L567.0 1181.5 L568.0 1181.5 L569.0 1181.5 L570.0 1181.5 L571.0 1181.5 L572.0 1181.5 L573.0 1181.5 L574.0 1181.5 L575.0 1181.5 L576.0 1181.5 L577.0 1181.5 L578.0 1181.5 L579.0 1181.5 L580.0 1181.5 L581.0 1181.5 L582.0 1181.5 L583.0 1181.5 L584.0 1181.5 L585.0 1181.5 L586.0 1181.5 L587.0 1181.5 L588.0 1181.5 L589.0 1181.5 L590.0 1181.5 L591.0 1181.5 L592.0 1181.5 L593.0 1181.5 L594.0 1181.5 L595.0 1181.5 L596.0 1181.5 L597.0 1181.5 L598.0 1181.5 L599.0 1181.5 L600.0 1181.5 L601.0 1181.5 L602.0 1181.5 L603.0 1181.5 L604.0 1181.5 L605.0 1181.5 L606.0 1181.5 L607.0 1181.5 L608.0 1181.5 L609.0 1181.5 L610.0 1181.5 L611.0 1181.5 L612.0 1181.5 L613.0 1181.5 L614.0 1181.5 L615.0 1181.5 L616.0 1181.5 L617.0 1181.5 L618.0 1181.5 L619.0 1181.5 L620.0 1181.5 L621.0 1181.5 L622.0 1181.5 L623.0 1181.5 L624.0 1181.5 L625.0 1181.5 L626.0 1181.5 L627.0 1181.5 L628.0 1181.5 L629.0 1181.5 L630.0 1181.5 L631.0 1181.5 L632.0 1181.5 L633.0 1181.5 L634.0 1181.5 L635.0 1181.5 L636.0 1181.5 L637.0 1181.5 L638.0 1181.5 L639.0 1181.5 L640.0 1181.5 L641.0 1181.5 L642.0 1181.5 L643.0 1181.5 L644.0 1181.5 L645.0 1181.5 L646.0 1181.5 L647.0 1181.5 L648.0 1181.5 L649.0 1181.5 L650.0 1181.5 L651.0 1181.5 L652.0 1181.5 L653.0 1181.5 L654.0 1181.5 L655.0 1181.5 L656.0 1181.5 L657.0 1181.5 L658.0 1181.5 L659.0 1181.5 L660.0 1181.5 L661.0 1181.5 L662.0 1181.5 L663.0 1181.5 L664.0 1181.5 L665.0 1181.5 L666.0 1181.5 L667.0 1181.5 L668.0 1181.5 L669.0 1181.5 L670.0 1181.5 L671.0 1181.5 L672.0 1181.5 L673.0 1181.5 L674.0 1181.5 L675.0 1181.5 L676.0 1181.5 L677.0 1181.5 L678.0 1181.5 L679.0 1181.5 L680.0 1181.5 L681.0 1181.5 L682.0 1181.5 L683.0 1181.5 L684.0 1181.5 L685.0 1181.5 L686.0 1181.5 L687.0 1181.5 L688.0 1181.5 L689.0 1181.5 L690.0 1181.5 L691.0 1181.5 L692.0 1181.5 L693.0 1181.5 L694.0 1181.5 L695.0 1181.5 L696.0 1181.5 L697.0 1181.5 L698.0 1181.5 L699.0 1181.5 L700.0 1181.5 L701.0 1181.5 L702.0 1181.5 L703.0 1181.5 L704.0 1181.5 L705.0 1181.5 L706.0 1181.5 L707.0 1181.5 L708.0 1181.5 L709.0 1181.5 L710.0 1181.5 L711.0 1181.5 L712.0 1181.5 L713.0 1181.5 L714.0 1181.5 L715.0 1181.5 L716.0 1181.5 L717.0 1181.5 L718.0 1181.5 L719.0 1181.5 L720.0 1181.5 L721.0 1181.5 L722.0 1181.5 L723.0 1181.5 L724.0 1181.5 L725.0 1181.5 L726.0 1181.5 L727.0 1181.5 L728.0 1181.5 L729.0 1181.5 L730.0 1181.5 L731.0 1181.5 L732.0 1181.5 L733.0 1181.5 L734.0 1181.5 L735.0 1181.5 L736.0 1181.5 L737.0 1181.5 L738.0 1181.5 L739.0 1181.5 L740.0 1181.5 L741.0 1181.5 L742.0 1181.5 L743.0 1181.5 L744.0 1181.5 L745.0 1181.5 L746.0 1181.5 L747.0 1181.5 L748.0 1181.5 L749.0 1181.5 L750.0 1181.5 L751.0 1181.5 L752.0 1181.5 L753.0 1181.5 L754.0 1181.5 L755.0 1181.5 L756.0 1181.5 L757.0 1181.5 L758.0 1181.5 L759.0 1181.5 L760.0 1181.5 L761.0 1181.5 L762.0 1181.5 L763.0 1181.5 L764.0 1181.5 L765.0 1181.5 L766.0 1181.5 L767.0 1181.5 L768.0 1181.5 L769.0 1181.5 L770.0 1181.5 L771.0 1181.5 L772.0 1181.5 L773.0 1181.5 L774.0 1181.5 L775.0 1181.5 L776.0 1181.5 L777.0 1181.5 L778.0 1181.5 L779.0 1181.5 L780.0 1181.5 L781.0 1181.5 L782.0 1181.5 L783.0 1181.5 L784.0 1181.5 L785.0 1181.5 L786.0 1181.5 L787.0 1181.5 L788.0 1181.5 L789.0 1181.5 L790.0 1181.5 L791.0 1181.5 L792.0 1181.5 L793.0 1181.5 L794.0 1181.5 L795.0 1181.5 L796.0 1181.5 L797.0 1181.5 L798.0 1181.5 L799.0 1181.5 L800.0 1181.5 L801.0 1181.5 L802.0 1181.5 L803.0 1181.5 L804.0 1181.5 L805.0 1181.5 L806.0 1181.5 L807.0 1181.5 L808.0 1181.5 L809.0 1181.5 L810.0 1181.5 L811.0 1181.5 L812.0 1181.5 L813.0 1181.5 L814.0 1181.5 L815.0 1181.5 L816.0 1181.5 L817.0 1181.5 L818.0 1181.5 L819.0 1181.5 L820.0 1181.5 L821.0 1181.5 L822.0 1181.5 L823.0 1181.5 L824.0 1181.5 L825.0 1181.5 L826.0 1181.5 L827.0 1181.5 L828.0 1181.5 L829.0 1181.5 L830.0 1181.5 L831.0 1181.5 L832.0 1181.5 L833.0 1181.5 L834.0 1181.5 L835.0 1181.5 L836.0 1181.5 L837.0 1181.5 L838.0 1181.5 L839.0 1181.5 L840.0 1181.5 L841.0 1181.5 L842.0 1181.5 L843.0 1181.5 L844.0 1181.5 L845.0 1181.5 L846.0 1181.5 L847.0 1181.5 L848.0 1181.5 L849.0 1181.5 L850.0 1181.5 L851.0 1181.5 L852.0 1181.5 L853.0 1181.5 L854.0 1181.5 L855.0 1181.5 L856.0 1181.5 L857.0 1181.5 L858.0 1181.5 L859.0 1181.5 L860.0 1181.5 L861.0 1181.5 L862.0 1181.5 L863.0 1181.5 L864.0 1181.5 L865.0 1181.5 L866.0 1181.5 L867.0 1181.5 L868.0 1181.5 L869.0 1181.5 L870.0 1181.5 L871.0 1181.5 L872.0 1181.5 L873.0 1181.5 L874.0 1181.5 L875.0 1181.5 L876.0 1181.5 L877.0 1181.5 L878.0 1181.5 L879.0 1181.5 L880.0 1181.5 L881.0 1181.5 L882.0 1181.5 L883.0 1181.5 L884.0 1181.5 L885.0 1181.5 L886.0 1181.5 L887.0 1181.5 L888.0 1181.5 L889.0 1181.5 L890.0 1181.5 L891.0 1181.5 L892.0 1181.5 L893.0 1181.5 L894.0 1181.5 L895.0 1181.5 L896.0 1181.5 L897.0 1181.5 L898.0 1181.5 L899.0 1181.5 L900.0 1181.5 L901.0 1181.5 L902.0 1181.5 L903.0 1181.5 L904.0 1181.5 L905.0 1181.5 L906.0 1181.5 L907.0 1181.5 L908.0 1181.5 L909.0 1181.5 L910.0 1181.5 L911.0 1181.5 L912.0 1181.5 L913.0 1181.5 L914.0 1181.5 L915.0 1181.5 L916.0 1181.5 L917.0 1181.5 L918.0 1181.5 L919.0 1181.5 L920.0 1181.5 L921.0 1181.5 L922.0 1181.5 L923.0 1181.5 L924.0 1181.5 L925.0 1181.5 L926.0 1181.5 L927.0 1181.5 L928.0 1181.5 L929.0 1181.5 L930.0 1181.5 L931.0 1181.5 L932.0 1181.5 L933.0 1181.5 L934.0 1181.5 L935.0 1181.5 L936.0 1181.5 L937.0 1181.5 L938.0 1181.5 L939.0 1181.5 L940.0 1181.5 L941.0 1181.5 L942.0 1181.5 L943.0 1181.5 L944.0 1181.5 L945.0 1181.5 L946.0 1181.5 L947.0 1181.5 L948.0 1181.5 L949.0 1181.5 L950.0 1181.5 L951.0 1181.5 L952.0 1181.5" fill="none" stroke="#FFA500" stroke-width="5" stroke-dasharray="5 4.2" shape-rendering="crispEdges"/>
<path d="M173.0 1180.2 L174.0 1180.2 L175.0 1180.2 L176.0 1180.2 L177.0 1180.2 L178.0 1180.2 L179.0 1180.2 L180.0 1180.2 L181.0 1180.2 L182.0 1180.2 L183.0 1180.2 L184.0 1180.2 L185.0 1180.2 L186.0 1180.2 L187.0 1180.2 L188.0 1180.1 L189.0 1180.1 L190.0 1180.1 L191.0 1180.1 L192.0 1180.1 L193.0 1180.1 L194.0 1180.1 L195.0 1180.1 L196.0 1180.1 L197.0 1180.1 L198.0 1180.1 L199.0 1180.1 L200.0 1180.0 L201.0 1180.0 L202.0 1180.0 L203.0 1180.0 L204.0 1180.0 L205.0 1180.0 L206.0 1180.0 L207.0 1180.0 L208.0 1180.0 L209.0 1180.0 L210.0 1179.9 L211.0 1179.9 L212.0 1179.9 L213.0 1179.9 L214.0 1179.9 L215.0 1179.9 L216.0 1179.9 L217.0 1179.9 L218.0 1179.8 L219.0 1179.8 L220.0 1179.8 L221.0 1179.8 L222.0 1179.8 L223.0 1179.8 L224.0 1179.8 L225.0 1179.8 L226.0 1179.7 L227.0 1179.7 L228.0 1179.7 L229.0 1179.7 L230.0 1179.7 L231.0 1179.7 L232.0 1179.7 L233.0 1179.6 L234.0 1179.6 L235.0 1179.6 L236.0 1179.6 L237.0 1179.6 L238.0 1179.6 L239.0 1179.5 L240.0 1179.5 L241.0 1179.5 L242.0 1179.5 L243.0 1179.5 L244.0 1179.5 L245.0 1179.4 L246.0 1179.4 L247.0 1179.4 L248.0 1179.4 L249.0 1179.4 L250.0 1179.3 L251.0 1179.3 L252.0 1179.3 L253.0 1179.3 L254.0 1179.3 L255.0 1179.2 L256.0 1179.2 L257.0 1179.2 L258.0 1179.2 L259.0 1179.1 L260.0 1179.1 L261.0 1179.1 L262.0 1179.1 L263.0 1179.0 L264.0 1179.0 L265.0 1179.0 L266.0 1179.0 L267.0 1178.9 L268.0 1178.9 L269.0 1178.9 L270.0 1178.9 L271.0 1178.8 L272.0 1178.8 L273.0 1178.8 L274.0 1178.8 L275.0 1178.7 L276.0 1178.7 L277.0 1178.7 L278.0 1178.6 L279.0 1178.6 L280.0 1178.6 L281.0 1178.6 L282.0 1178.5 L283.0 1178.5 L284.0 1178.5 L285.0 1178.4 L286.0 1178.4 L287.0 1178.4 L288.0 1178.3 L289.0 1178.3 L290.0 1178.3 L291.0 1178.2 L292.0 1178.2 L293.0 1178.1 L294.0 1178.1 L295.0 1178.1 L296.0 1178.0 L297.0 1178.0 L298.0 1178.0 L299.0 1177.9 L300.0 1177.9 L301.0 1177.8 L302.0 1177.8 L303.0 1177.8 L304.0 1177.7 L305.0 1177.7 L306.0 1177.6 L307.0 1177.6 L308.0 1177.5 L309.0 1177.5 L310.0 1177.4 L311.0 1177.4 L312.0 1177.4 L313.0 1177.3 L314.0 1177.3 L315.0 1177.2 L316.0 1177.2 L317.0 1177.1 L318.0 1177.1 L319.0 1177.0 L320.0 1177.0 L321.0 1176.9 L322.0 1176.8 L323.0 1176.8 L324.0 1176.7 L325.0 1176.7 L326.0 1176.6 L327.0 1176.6 L328.0 1176.5 L329.0 1176.5 L330.0 1176.4 L331.0 1176.3 L332.0 1176.3 L333.0 1176.2 L334.0 1176.1 L335.0 1176.1 L336.0 1176.0 L337.0 1176.0 L338.0 1175.9 L339.0 1175.8 L340.0 1175.8 L341.0 1175.7 L342.0 1175.6 L343.0 1175.6 L344.0 1175.5 L345.0 1175.4 L346.0 1175.3 L347.0 1175.3 L348.0 1175.2 L349.0 1175.1 L350.0 1175.0 L351.0 1175.0 L352.0 1174.9 L353.0 1174.8 L354.0 1174.7 L355.0 1174.6 L356.0 1174.6 L357.0 1174.5 L358.0 1174.4 L359.0 1174.3 L360.0 1174.2 L361.0 1174.1 L362.0 1174.1 L363.0 1174.0 L364.0 1173.9 L365.0 1173.8 L366.0 1173.7 L367.0 1173.6 L368.0 1173.5 L369.0 1173.4 L370.0 1173.3 L371.0 1173.2 L372.0 1173.1 L373.0 1173.0 L374.0 1172.9 L375.0 1172.8 L376.0 1172.7 L377.0 1172.6 L378.0 1172.5 L379.0 1172.4 L380.0 1172.3 L381.0 1172.2 L382.0 1172.1 L383.0 1171.9 L384.0 1171.8 L385.0 1171.7 L386.0 1171.6 L387.0 1171.5 L388.0 1171.4 L389.0 1171.2 L390.0 1171.1 L391.0 1171.0 L392.0 1170.9 L393.0 1170.8 L394.0 1170.6 L395.0 1170.5 L396.0 1170.4 L397.0 1170.2 L398.0 1170.1 L399.0 1170.0 L400.0 1169.8 L401.0 1169.7 L402.0 1169.6 L403.0 1169.4 L404.0 1169.3 L405.0 1169.1 L406.0 1169.0 L407.0 1168.8 L408.0 1168.7 L409.0 1168.5 L410.0 1168.4 L411.0 1168.2 L412.0 1168.1 L413.0 1167.9 L414.0 1167.8 L415.0 1167.6 L416.0 1167.4 L417.0 1167.3 L418.0 1167.1 L419.0 1167.0 L420.0 1166.8 L421.0 1166.6 L422.0 1166.4 L423.0 1166.3 L424.0 1166.1 L425.0 1165.9 L426.0 1165.7 L427.0 1165.6 L428.0 1165.4 L429.0 1165.2 L430.0 1165.0 L431.0 1164.8 L432.0 1164.6 L433.0 1164.4 L434.0 1164.2 L435.0 1164.0 L436.0 1163.8 L437.0 1163.6 L438.0 1163.4 L439.0 1163.2 L440.0 1163.0 L441.0 1162.8 L442.0 1162.6 L443.0 1162.4 L444.0 1162.2 L445.0 1162.0 L446.0 1161.7 L447.0 1161.5 L448.0 1161.3 L449.0 1161.1 L450.0 1160.8 L451.0 1160.6 L452.0 1160.4 L453.0 1160.1 L454.0 1159.9 L455.0 1159.7 L456.0 1159.4 L457.0 1159.2 L458.0 1158.9 L459.0 1158.7 L460.0 1158.4 L461.0 1158.2 L462.0 1157.9 L463.0 1157.7 L464.0 1157.4 L465.0 1157.1 L466.0 1156.9 L467.0 1156.6 L468.0 1156.3 L469.0 1156.1 L470.0 1155.8 L471.0 1155.5 L472.0 1155.2 L473.0 1154.9 L474.0 1154.6 L475.0 1154.4 L476.0 1154.1 L477.0 1153.8 L478.0 1153.5 L479.0 1153.2 L480.0 1152.9 L481.0 1152.6 L482.0 1152.3 L483.0 1151.9 L484.0 1151.6 L485.0 1151.3 L486.0 1151.0 L487.0 1150.7 L488.0 1150.3 L489.0 1150.0 L490.0 1149.7 L491.0 1149.4 L492.0 1149.0 L493.0 1148.7 L494.0 1148.3 L495.0 1148.0 L496.0 1147.6 L497.0 1147.3 L498.0 1146.9 L499.0 1146.6 L500.0 1146.2 L501.0 1145.8 L502.0 1145.5 L503.0 1145.1 L504.0 1144.7 L505.0 1144.4 L506.0 1144.0 L507.0 1143.6 L508.0 1143.2 L509.0 1142.8 L510.0 1142.4 L511.0 1142.0 L512.0 1141.6 L513.0 1141.2 L514.0 1140.8 L515.0 1140.4 L516.0 1140.0 L517.0 1139.6 L518.0 1139.2 L519.0 1138.7 L520.0 1138.3 L521.0 1137.9 L522.0 1137.4 L523.0 1137.0 L524.0 1136.6 L525.0 1136.1 L526.0 1135.7 L527.0 1135.2 L528.0 1134.8 L529.0 1134.3 L530.0 1133.9 L531.0 1133.4 L532.0 1132.9 L533.0 1132.5 L534.0 1132.0 L535.0 1131.5 L536.0 1131.0 L537.0 1130.5 L538.0 1130.0 L539.0 1129.5 L540.0 1129.0 L541.0 1128.5 L542.0 1128.0 L543.0 1127.5 L544.0 1127.0 L545.0 1126.5 L546.0 1126.0 L547.0 1125.4 L548.0 1124.9 L549.0 1124.4 L550.0 1123.9 L551.0 1123.3 L552.0 1122.8 L553.0 1122.2 L554.0 1121.7 L555.0 1121.1 L556.0 1120.6 L557.0 1120.0 L558.0 1119.4 L559.0 1118.8 L560.0 1118.3 L561.0 1117.7 L562.0 1117.1 L563.0 1116.5 L564.0 1115.9 L565.0 1115.3 L566.0 1114.7 L567.0 1114.1 L568.0 1113.5 L569.0 1112.9 L570.0 1112.3 L571.0 1111.7 L572.0 1111.0 L573.0 1110.4 L574.0 1109.8 L575.0 1109.1 L576.0 1108.5 L577.0 1107.9 L578.0 1107.2 L579.0 1106.5 L580.0 1105.9 L581.0 1105.2 L582.0 1104.6 L583.0 1103.9 L584.0 1103.2 L585.0 1102.5 L586.0 1101.8 L587.0 1101.2 L588.0 1100.5 L589.0 1099.8 L590.0 1099.1 L591.0 1098.4 L592.0 1097.6 L593.0 1096.9 L594.0 1096.2 L595.0 1095.5 L596.0 1094.8 L597.0 1094.0 L598.0 1093.3 L599.0 1092.6 L600.0 1091.8 L601.0 1091.1 L602.0 1090.3 L603.0 1089.5 L604.0 1088.8 L605.0 1088.0 L606.0 1087.2 L607.0 1086.5 L608.0 1085.7 L609.0 1084.9 L610.0 1084.1 L611.0 1083.3 L612.0 1082.5 L613.0 1081.7 L614.0 1080.9 L615.0 1080.1 L616.0 1079.3 L617.0 1078.5 L618.0 1077.6 L619.0 1076.8 L620.0 1076.0 L621.0 1075.1 L622.0 1074.3 L623.0 1073.4 L624.0 1072.6 L625.0 1071.7 L626.0 1070.9 L627.0 1070.0 L628.0 1069.1 L629.0 1068.3 L630.0 1067.4 L631.0 1066.5 L632.0 1065.6 L633.0 1064.7 L634.0 1063.8 L635.0 1062.9 L636.0 1062.0 L637.0 1061.1 L638.0 1060.2 L639.0 1059.3 L640.0 1058.3 L641.0 1057.4 L642.0 1056.5 L643.0 1055.5 L644.0 1054.6 L645.0 1053.7 L646.0 1052.7 L647.0 1051.8 L648.0 1050.8 L649.0 1049.8 L650.0 1048.9 L651.0 1047.9 L652.0 1046.9 L653.0 1045.9 L654.0 1045.0 L655.0 1044.0 L656.0 1043.0 L657.0 1042.0 L658.0 1041.0 L659.0 1040.0 L660.0 1039.0 L661.0 1037.9 L662.0 1036.9 L663.0 1035.9 L664.0 1034.9 L665.0 1033.8 L666.0 1032.8 L667.0 1031.8 L668.0 1030.7 L669.0 1029.7 L670.0 1028.6 L671.0 1027.6 L672.0 1026.5 L673.0 1025.5 L674.0 1024.4 L675.0 1023.3 L676.0 1022.2 L677.0 1021.2 L678.0 1020.1 L679.0 1019.0 L680.0 1017.9 L681.0 1016.8 L682.0 1015.7 L683.0 1014.6 L684.0 1013.5 L685.0 1012.4 L686.0 1011.3 L687.0 1010.1 L688.0 1009.0 L689.0 1007.9 L690.0 1006.8 L691.0 1005.6 L692.0 1004.5 L693.0 1003.4 L694.0 1002.2 L695.0 1001.1 L696.0 999.9 L697.0 998.8 L698.0 997.6 L699.0 996.4 L700.0 995.3 L701.0 994.1 L702.0 992.9 L703.0 991.8 L704.0 990.6 L705.0 989.4 L706.0 988.2 L707.0 987.0 L708.0 985.8 L709.0 984.7 L710.0 983.5 L711.0 982.3 L712.0 981.1 L713.0 979.8 L714.0 978.6 L715.0 977.4 L716.0 976.2 L717.0 975.0 L718.0 973.8 L719.0 972.5 L720.0 971.3 L721.0 970.1 L722.0 968.9 L723.0 967.6 L724.0 966.4 L725.0 965.1 L726.0 963.9 L727.0 962.7 L728.0 961.4 L729.0 960.2 L730.0 958.9 L731.0 957.7 L732.0 956.4 L733.0 955.1 L734.0 953.9 L735.0 952.6 L736.0 951.3 L737.0 950.1 L738.0 948.8 L739.0 947.5 L740.0 946.3 L741.0 945.0 L742.0 943.7 L743.0 942.4 L744.0 941.1 L745.0 939.9 L746.0 938.6 L747.0 937.3 L748.0 936.0 L749.0 934.7 L750.0 933.4 L751.0 932.1 L752.0 930.8 L753.0 929.5 L754.0 928.2 L755.0 926.9 L756.0 925.6 L757.0 924.3 L758.0 923.0 L759.0 921.7 L760.0 920.4 L761.0 919.1 L762.0 917.8 L763.0 916.5 L764.0 915.2 L765.0 913.9 L766.0 912.6 L767.0 911.3 L768.0 910.0 L769.0 908.6 L770.0 907.3 L771.0 906.0 L772.0 904.7 L773.0 903.4 L774.0 902.1 L775.0 900.8 L776.0 899.4 L777.0 898.1 L778.0 896.8 L779.0 895.5 L780.0 894.2 L781.0 892.9 L782.0 891.6 L783.0 890.2 L784.0 888.9 L785.0 887.6 L786.0 886.3 L787.0 885.0 L788.0 883.7 L789.0 882.4 L790.0 881.0 L791.0 879.7 L792.0 878.4 L793.0 877.1 L794.0 875.8 L795.0 874.5 L796.0 873.2 L797.0 871.9 L798.0 870.6 L799.0 869.3 L800.0 868.0 L801.0 866.7 L802.0 865.4 L803.0 864.1 L804.0 862.8 L805.0 861.5 L806.0 860.2 L807.0 858.9 L808.0 857.6 L809.0 856.3 L810.0 855.0 L811.0 853.7 L812.0 852.5 L813.0 851.2 L814.0 849.9 L815.0 848.6 L816.0 847.3 L817.0 846.1 L818.0 844.8 L819.0 843.5 L820.0 842.3 L821.0 841.0 L822.0 839.7 L823.0 838.5 L824.0 837.2 L825.0 836.0 L826.0 834.7 L827.0 833.5 L828.0 832.2 L829.0 831.0 L830.0 829.7 L831.0 828.5 L832.0 827.3 L833.0 826.0 L834.0 824.8 L835.0 823.6 L836.0 822.4 L837.0 821.2 L838.0 819.9 L839.0 818.7 L840.0 817.5 L841.0 816.3 L842.0 815.1 L843.0 813.9 L844.0 812.7 L845.0 811.6 L846.0 810.4 L847.0 809.2 L848.0 808.0 L849.0 806.9 L850.0 805.7 L851.0 804.5 L852.0 803.4 L853.0 802.2 L854.0 801.1 L855.0 799.9 L856.0 798.8 L857.0 797.7 L858.0 796.5 L859.0 795.4 L860.0 794.3 L861.0 793.2 L862.0 792.1 L863.0 791.0 L864.0 789.9 L865.0 788.8 L866.0 787.7 L867.0 786.6 L868.0 785.5 L869.0 784.5 L870.0 783.4 L871.0 782.3 L872.0 781.3 L873.0 780.2 L874.0 779.2 L875.0 778.2 L876.0 777.1 L877.0 776.1 L878.0 775.1 L879.0 774.1 L880.0 773.1 L881.0 772.1 L882.0 771.1 L883.0 770.1 L884.0 769.1 L885.0 768.1 L886.0 767.1 L887.0 766.2 L888.0 765.2 L889.0 764.3 L890.0 763.3 L891.0 762.4 L892.0 761.5 L893.0 760.6 L894.0 759.6 L895.0 758.7 L896.0 757.8 L897.0 756.9 L898.0 756.0 L899.0 755.2 L900.0 754.3 L901.0 753.4 L902.0 752.6 L903.0 751.7 L904.0 750.9 L905.0 750.0 L906.0 749.2 L907.0 748.4 L908.0 747.6 L909.0 746.8 L910.0 746.0 L911.0 745.2 L912.0 744.4 L913.0 743.6 L914.0 742.9 L915.0 742.1 L916.0 741.4 L917.0 740.6 L918.0 739.9 L919.0 739.2 L920.0 738.5 L921.0 737.7 L922.0 737.0 L923.0 736.4 L924.0 735.7 L925.0 735.0 L926.0 734.3 L927.0 733.7 L928.0 733.0 L929.0 732.4 L930.0 731.7 L931.0 731.1 L932.0 730.5 L933.0 729.9 L934.0 729.3 L935.0 728.7 L936.0 728.1 L937.0 727.6 L938.0 727.0 L939.0 726.5 L940.0 725.9 L941.0 725.4 L942.0 724.8 L943.0 724.3 L944.0 723.8 L945.0 723.3 L946.0 722.8 L947.0 722.4 L948.0 721.9 L949.0 721.4 L950.0 721.0 L951.0 720.5 L952.0 720.1 L953.0 719.7 L954.0 719.3 L955.0 718.9 L956.0 718.5 L957.0 718.1 L958.0 717.7 L959.0 717.3 L960.0 717.0 L961.0 716.6 L962.0 716.3 L963.0 716.0 L964.0 715.6 L965.0 715.3 L966.0 715.0 L967.0 714.7 L968.0 714.5 L969.0 714.2 L970.0 713.9 L971.0 713.7 L972.0 713.4 L973.0 713.2 L974.0 713.0 L975.0 712.8 L976.0 712.6 L977.0 712.4 L978.0 712.2 L979.0 712.0 L980.0 711.9 L981.0 711.7 L982.0 711.6 L983.0 711.4 L984.0 711.3 L985.0 711.2 L986.0 711.1 L987.0 711.0 L988.0 710.9 L989.0 710.9 L990.0 710.8 L991.0 710.7 L992.0 710.7 L993.0 710.7 L994.0 710.6 L995.0 710.6 L996.0 710.6 L997.0 710.6 L998.0 710.6 L999.0 710.7 L1000.0 710.7 L1001.0 710.8 L1002.0 710.8 L1003.0 710.9 L1004.0 711.0 L1005.0 711.1 L1006.0 711.1 L1007.0 711.3 L1008.0 711.4 L1009.0 711.5 L1010.0 711.6 L1011.0 711.8 L1012.0 711.9 L1013.0 712.1 L1014.0 712.3 L1015.0 712.5 L1016.0 712.7 L1017.0 712.9 L1018.0 713.1 L1019.0 713.3 L1020.0 713.6 L1021.0 713.8 L1022.0 714.1 L1023.0 714.3 L1024.0 714.6 L1025.0 714.9 L1026.0 715.2 L1027.0 715.5 L1028.0 715.8 L1029.0 716.1 L1030.0 716.5 L1031.0 716.8 L1032.0 717.2 L1033.0 717.5 L1034.0 717.9 L1035.0 718.3 L1036.0 718.7 L1037.0 719.1 L1038.0 719.5 L1039.0 719.9 L1040.0 720.3 L1041.0 720.8 L1042.0 721.2 L1043.0 721.7 L1044.0 722.1 L1045.0 722.6 L1046.0 723.1 L1047.0 723.6 L1048.0 724.1 L1049.0 724.6 L1050.0 725.1 L1051.0 725.6 L1052.0 726.2 L1053.0 726.7 L1054.0 727.3 L1055.0 727.9 L1056.0 728.4 L1057.0 729.0 L1058.0 729.6 L1059.0 730.2 L1060.0 730.8 L1061.0 731.4 L1062.0 732.1 L1063.0 732.7 L1064.0 733.4 L1065.0 734.0 L1066.0 734.7 L1067.0 735.3 L1068.0 736.0 L1069.0 736.7 L1070.0 737.4 L1071.0 738.1 L1072.0 738.8 L1073.0 739.5 L1074.0 740.3 L1075.0 741.0 L1076.0 741.8 L1077.0 742.5 L1078.0 743.3 L1079.0 744.0 L1080.0 744.8 L1081.0 745.6 L1082.0 746.4 L1083.0 747.2 L1084.0 748.0 L1085.0 748.8 L1086.0 749.6 L1087.0 750.5 L1088.0 751.3 L1089.0 752.2 L1090.0 753.0 L1091.0 753.9 L1092.0 754.7 L1093.0 755.6 L1094.0 756.5 L1095.0 757.4 L1096.0 758.3 L1097.0 759.2 L1098.0 760.1 L1099.0 761.0 L1100.0 762.0 L1101.0 762.9 L1102.0 763.8 L1103.0 764.8 L1104.0 765.7 L1105.0 766.7 L1106.0 767.6 L1107.0 768.6 L1108.0 769.6 L1109.0 770.6 L1110.0 771.6 L1111.0 772.6 L1112.0 773.6 L1113.0 774.6 L1114.0 775.6 L1115.0 776.6 L1116.0 777.7 L1117.0 778.7 L1118.0 779.7 L1119.0 780.8 L1120.0 781.8 L1121.0 782.9 L1122.0 783.9 L1123.0 785.0 L1124.0 786.1 L1125.0 787.2 L1126.0 788.3 L1127.0 789.3 L1128.0 790.4 L1129.0 791.5 L1130.0 792.6 L1131.0 793.8 L1132.0 794.9 L1133.0 796.0 L1134.0 797.1 L1135.0 798.3 L1136.0 799.4 L1137.0 800.5 L1138.0 801.7 L1139.0 802.8 L1140.0 804.0 L1141.0 805.1 L1142.0 806.3 L1143.0 807.5 L1144.0 808.6 L1145.0 809.8 L1146.0 811.0 L1147.0 812.2 L1148.0 813.4 L1149.0 814.6 L1150.0 815.7 L1151.0 816.9 L1152.0 818.2 L1153.0 819.4 L1154.0 820.6 L1155.0 821.8 L1156.0 823.0 L1157.0 824.2 L1158.0 825.4 L1159.0 826.7 L1160.0 827.9 L1161.0 829.1 L1162.0 830.4 L1163.0 831.6 L1164.0 832.9 L1165.0 834.1 L1166.0 835.4 L1167.0 836.6 L1168.0 837.9 L1169.0 839.1 L1170.0 840.4 L1171.0 841.6 L1172.0 842.9 L1173.0 844.2 L1174.0 845.5 L1175.0 846.7 L1176.0 848.0 L1177.0 849.3 L1178.0 850.6 L1179.0 851.8 L1180.0 853.1 L1181.0 854.4 L1182.0 855.7 L1183.0 857.0 L1184.0 858.3 L1185.0 859.6 L1186.0 860.9 L1187.0 862.2 L1188.0 863.4 L1189.0 864.7 L1190.0 866.0 L1191.0 867.3 L1192.0 868.6 L1193.0 870.0 L1194.0 871.3 L1195.0 872.6 L1196.0 873.9 L1197.0 875.2 L1198.0 876.5 L1199.0 877.8 L1200.0 879.1 L1201.0 880.4 L1202.0 881.7 L1203.0 883.0 L1204.0 884.4 L1205.0 885.7 L1206.0 887.0 L1207.0 888.3 L1208.0 889.6 L1209.0 890.9 L1210.0 892.2 L1211.0 893.6 L1212.0 894.9 L1213.0 896.2 L1214.0 897.5 L1215.0 898.8 L1216.0 900.1 L1217.0 901.4 L1218.0 902.8 L1219.0 904.1 L1220.0 905.4 L1221.0 906.7 L1222.0 908.0 L1223.0 909.3 L1224.0 910.6 L1225.0 911.9 L1226.0 913.3 L1227.0 914.6 L1228.0 915.9 L1229.0 917.2 L1230.0 918.5 L1231.0 919.8 L1232.0 921.1 L1233.0 922.4 L1234.0 923.7 L1235.0 925.0 L1236.0 926.3 L1237.0 927.6 L1238.0 928.9 L1239.0 930.2 L1240.0 931.5 L1241.0 932.8 L1242.0 934.1 L1243.0 935.4 L1244.0 936.7 L1245.0 938.0 L1246.0 939.2 L1247.0 940.5 L1248.0 941.8 L1249.0 943.1 L1250.0 944.4 L1251.0 945.6 L1252.0 946.9 L1253.0 948.2 L1254.0 949.5 L1255.0 950.7 L1256.0 952.0 L1257.0 953.3 L1258.0 954.5 L1259.0 955.8 L1260.0 957.0 L1261.0 958.3 L1262.0 959.6 L1263.0 960.8 L1264.0 962.1 L1265.0 963.3 L1266.0 964.5 L1267.0 965.8 L1268.0 967.0 L1269.0 968.3 L1270.0 969.5 L1271.0 970.7 L1272.0 972.0 L1273.0 973.2 L1274.0 974.4 L1275.0 975.6 L1276.0 976.8 L1277.0 978.1 L1278.0 979.3 L1279.0 980.5 L1280.0 981.7 L1281.0 982.9 L1282.0 984.1 L1283.0 985.3 L1284.0 986.5 L1285.0 987.7 L1286.0 988.8 L1287.0 990.0 L1288.0 991.2 L1289.0 992.4 L1290.0 993.6 L1291.0 994.7 L1292.0 995.9 L1293.0 997.1 L1294.0 998.2 L1295.0 999.4 L1296.0 1000.5 L1297.0 1001.7 L1298.0 1002.8 L1299.0 1004.0 L1300.0 1005.1 L1301.0 1006.2 L1302.0 1007.4 L1303.0 1008.5 L1304.0 1009.6 L1305.0 1010.7 L1306.0 1011.8 L1307.0 1013.0 L1308.0 1014.1 L1309.0 1015.2 L1310.0 1016.3 L1311.0 1017.4 L1312.0 1018.5 L1313.0 1019.6 L1314.0 1020.6 L1315.0 1021.7 L1316.0 1022.8 L1317.0 1023.9 L1318.0 1024.9 L1319.0 1026.0 L1320.0 1027.1 L1321.0 1028.1 L1322.0 1029.2 L1323.0 1030.2 L1324.0 1031.3 L1325.0 1032.3 L1326.0 1033.3 L1327.0 1034.4 L1328.0 1035.4 L1329.0 1036.4 L1330.0 1037.5 L1331.0 1038.5 L1332.0 1039.5 L1333.0 1040.5 L1334.0 1041.5 L1335.0 1042.5 L1336.0 1043.5 L1337.0 1044.5 L1338.0 1045.5 L1339.0 1046.4 L1340.0 1047.4 L1341.0 1048.4 L1342.0 1049.4 L1343.0 1050.3 L1344.0 1051.3 L1345.0 1052.2 L1346.0 1053.2 L1347.0 1054.1 L1348.0 1055.1 L1349.0 1056.0 L1350.0 1057.0 L1351.0 1057.9 L1352.0 1058.8 L1353.0 1059.7 L1354.0 1060.7 L1355.0 1061.6 L1356.0 1062.5 L1357.0 1063.4 L1358.0 1064.3 L1359.0 1065.2 L1360.0 1066.1 L1361.0 1066.9 L1362.0 1067.8 L1363.0 1068.7 L1364.0 1069.6 L1365.0 1070.4 L1366.0 1071.3 L1367.0 1072.2 L1368.0 1073.0 L1369.0 1073.9 L1370.0 1074.7 L1371.0 1075.6 L1372.0 1076.4 L1373.0 1077.2 L1374.0 1078.1 L1375.0 1078.9 L1376.0 1079.7 L1377.0 1080.5 L1378.0 1081.3 L1379.0 1082.1 L1380.0 1082.9 L1381.0 1083.7 L1382.0 1084.5 L1383.0 1085.3 L1384.0 1086.1 L1385.0 1086.9 L1386.0 1087.6 L1387.0 1088.4 L1388.0 1089.2 L1389.0 1089.9 L1390.0 1090.7 L1391.0 1091.4 L1392.0 1092.2 L1393.0 1092.9 L1394.0 1093.7 L1395.0 1094.4 L1396.0 1095.1 L1397.0 1095.9 L1398.0 1096.6 L1399.0 1097.3 L1400.0 1098.0 L1401.0 1098.7 L1402.0 1099.4 L1403.0 1100.1 L1404.0 1100.8 L1405.0 1101.5 L1406.0 1102.2 L1407.0 1102.9 L1408.0 1103.6 L1409.0 1104.2 L1410.0 1104.9 L1411.0 1105.6 L1412.0 1106.2 L1413.0 1106.9 L1414.0 1107.5 L1415.0 1108.2 L1416.0 1108.8 L1417.0 1109.5 L1418.0 1110.1 L1419.0 1110.7 L1420.0 1111.4 L1421.0 1112.0 L1422.0 1112.6 L1423.0 1113.2 L1424.0 1113.8 L1425.0 1114.4 L1426.0 1115.0 L1427.0 1115.6 L1428.0 1116.2 L1429.0 1116.8 L1430.0 1117.4 L1431.0 1118.0 L1432.0 1118.6 L1433.0 1119.1 L1434.0 1119.7 L1435.0 1120.3 L1436.0 1120.8 L1437.0 1121.4 L1438.0 1122.0 L1439.0 1122.5 L1440.0 1123.0 L1441.0 1123.6 L1442.0 1124.1 L1443.0 1124.7 L1444.0 1125.2 L1445.0 1125.7 L1446.0 1126.2 L1447.0 1126.8 L1448.0 1127.3 L1449.0 1127.8 L1450.0 1128.3 L1451.0 1128.8 L1452.0 1129.3 L1453.0 1129.8 L1454.0 1130.3 L1455.0 1130.8 L1456.0 1131.3 L1457.0 1131.7 L1458.0 1132.2 L1459.0 1132.7 L1460.0 1133.2 L1461.0 1133.6 L1462.0 1134.1 L1463.0 1134.6 L1464.0 1135.0 L1465.0 1135.5 L1466.0 1135.9 L1467.0 1136.4 L1468.0 1136.8 L1469.0 1137.2 L1470.0 1137.7 L1471.0 1138.1 L1472.0 1138.5 L1473.0 1139.0 L1474.0 1139.4 L1475.0 1139.8 L1476.0 1140.2 L1477.0 1140.6 L1478.0 1141.0 L1479.0 1141.4 L1480.0 1141.8 L1481.0 1142.2 L1482.0 1142.6 L1483.0 1143.0 L1484.0 1143.4 L1485.0 1143.8 L1486.0 1144.2 L1487.0 1144.6 L1488.0 1144.9 L1489.0 1145.3 L1490.0 1145.7 L1491.0 1146.0 L1492.0 1146.4 L1493.0 1146.8 L1494.0 1147.1 L1495.0 1147.5 L1496.0 1147.8 L1497.0 1148.2 L1498.0 1148.5 L1499.0 1148.9 L1500.0 1149.2 L1501.0 1149.5 L1502.0 1149.9 L1503.0 1150.2 L1504.0 1150.5 L1505.0 1150.8 L1506.0 1151.2 L1507.0 1151.5 L1508.0 1151.8 L1509.0 1152.1 L1510.0 1152.4 L1511.0 1152.7 L1512.0 1153.0 L1513.0 1153.3 L1514.0 1153.6 L1515.0 1153.9 L1516.0 1154.2 L1517.0 1154.5 L1518.0 1154.8 L1519.0 1155.1 L1520.0 1155.4 L1521.0 1155.6 L1522.0 1155.9 L1523.0 1156.2 L1524.0 1156.5 L1525.0 1156.7 L1526.0 1157.0 L1527.0 1157.3 L1528.0 1157.5 L1529.0 1157.8 L1530.0 1158.1 L1531.0 1158.3 L1532.0 1158.6 L1533.0 1158.8 L1534.0 1159.1 L1535.0 1159.3 L1536.0 1159.5 L1537.0 1159.8 L1538.0 1160.0 L1539.0 1160.3 L1540.0 1160.5 L1541.0 1160.7 L1542.0 1161.0 L1543.0 1161.2 L1544.0 1161.4 L1545.0 1161.6 L1546.0 1161.9 L1547.0 1162.1 L1548.0 1162.3 L1549.0 1162.5 L1550.0 1162.7 L1551.0 1162.9 L1552.0 1163.1 L1553.0 1163.3 L1554.0 1163.5 L1555.0 1163.7 L1556.0 1163.9 L1557.0 1164.1 L1558.0 1164.3 L1559.0 1164.5 L1560.0 1164.7 L1561.0 1164.9 L1562.0 1165.1 L1563.0 1165.3 L1564.0 1165.5 L1565.0 1165.7 L1566.0 1165.8 L1567.0 1166.0 L1568.0 1166.2 L1569.0 1166.4 L1570.0 1166.5 L1571.0 1166.7 L1572.0 1166.9 L1573.0 1167.0 L1574.0 1167.2 L1575.0 1167.4 L1576.0 1167.5 L1577.0 1167.7 L1578.0 1167.9 L1579.0 1168.0 L1580.0 1168.2 L1581.0 1168.3 L1582.0 1168.5 L1583.0 1168.6 L1584.0 1168.8 L1585.0 1168.9 L1586.0 1169.1 L1587.0 1169.2 L1588.0 1169.3 L1589.0 1169.5 L1590.0 1169.6 L1591.0 1169.8 L1592.0 1169.9 L1593.0 1170.0 L1594.0 1170.2 L1595.0 1170.3 L1596.0 1170.4 L1597.0 1170.6 L1598.0 1170.7 L1599.0 1170.8 L1600.0 1170.9 L1601.0 1171.1 L1602.0 1171.2 L1603.0 1171.3 L1604.0 1171.4 L1605.0 1171.5 L1606.0 1171.7 L1607.0 1171.8 L1608.0 1171.9 L1609.0 1172.0 L1610.0 1172.1 L1611.0 1172.2 L1612.0 1172.3 L1613.0 1172.4 L1614.0 1172.6 L1615.0 1172.7 L1616.0 1172.8 L1617.0 1172.9 L1618.0 1173.0 L1619.0 1173.1 L1620.0 1173.2 L1621.0 1173.3 L1622.0 1173.4 L1623.0 1173.5 L1624.0 1173.6 L1625.0 1173.6 L1626.0 1173.7 L1627.0 1173.8 L1628.0 1173.9 L1629.0 1174.0 L1630.0 1174.1 L1631.0 1174.2 L1632.0 1174.3 L1633.0 1174.4 L1634.0 1174.4 L1635.0 1174.5 L1636.0 1174.6 L1637.0 1174.7 L1638.0 1174.8 L1639.0 1174.8 L1640.0 1174.9 L1641.0 1175.0 L1642.0 1175.1 L1643.0 1175.2 L1644.0 1175.2 L1645.0 1175.3 L1646.0 1175.4 L1647.0 1175.4 L1648.0 1175.5 L1649.0 1175.6 L1650.0 1175.7 L1651.0 1175.7 L1652.0 1175.8 L1653.0 1175.9 L1654.0 1175.9 L1655.0 1176.0 L1656.0 1176.1 L1657.0 1176.1 L1658.0 1176.2 L1659.0 1176.2 L1660.0 1176.3 L1661.0 1176.4 L1662.0 1176.4 L1663.0 1176.5 L1664.0 1176.5 L1665.0 1176.6 L1666.0 1176.7 L1667.0 1176.7 L1668.0 1176.8 L1669.0 1176.8 L1670.0 1176.9 L1671.0 1176.9 L1672.0 1177.0 L1673.0 1177.0 L1674.0 1177.1 L1675.0 1177.1 L1676.0 1177.2 L1677.0 1177.2 L1678.0 1177.3 L1679.0 1177.3 L1680.0 1177.4 L1681.0 1177.4" fill="none" stroke="#6060FF" stroke-width="5" stroke-dasharray="5 4.2" shape-rendering="crispEdges"/>
<path d="M171.2 993.1 L172.1 982.9 L173.1 979.4 L178.8 978.8 L182.3 974.0 L184.9 975.3 L185.9 984.8 L187.1 977.8 L189.0 975.9 L193.5 978.5 L198.0 978.5 L199.2 981.0 L202.4 981.0 L204.4 968.3 L205.6 960.6 L208.8 960.3 L210.7 960.6 L213.0 959.0 L214.2 938.3 L219.0 938.0 L220.0 944.0 L220.6 960.0 L222.8 961.3 L225.7 962.5 L227.0 966.4 L230.2 952.9 L231.3 939.5 L232.4 933.6 L236.1 933.2 L237.3 941.0 L238.0 947.7 L239.9 947.7 L240.6 941.8 L241.3 935.1 L244.3 934.3 L245.8 939.5 L247.3 944.7 L248.0 931.3 L249.5 927.6 L252.5 926.1 L256.2 930.6 L257.0 938.8 L260.7 939.5 L266.6 931.3 L271.9 924.6 L272.6 912.0 L275.6 910.1 L277.8 911.3 L279.3 905.3 L280.4 900.1 L281.5 888.9 L283.0 880.0 L292.0 903.8 L286.7 905.3 L282.6 918.7 L281.5 925.4 L280.8 931.3 L276.0 932.1 L275.2 941.8 L274.5 950.3 L269.6 952.2 L268.9 962.6 L264.4 963.3 L262.9 967.8 L259.6 967.1 L258.5 955.9 L257.7 951.4 L252.5 955.1 L251.4 961.8 L248.0 964.8 L245.1 963.3 L239.9 965.6 L239.1 970.8 L233.9 972.3 L233.2 976.0 L232.5 990.0 L230.0 998.0 L227.6 1000.8 L224.1 997.0 L223.8 982.9 L222.2 980.4 L218.4 981.0 L215.2 981.0 L214.9 998.9 L213.9 1010.4 L213.0 1012.9 L210.4 1014.8 L207.2 1012.9 L204.4 1014.8 L201.2 1011.6 L199.9 1004.6 L196.4 1002.1 L195.4 997.0 L194.8 1002.7 L193.8 1005.6 L191.0 1005.6 L190.0 1002.7 L188.7 1002.1 L187.8 1017.4 L184.9 1020.0 L182.0 1018.0 L181.7 997.0 L180.8 993.1 L179.5 995.0 L176.0 996.3 L175.7 1011.0 L171.2 1011.6 Z" fill="#00AAFF" stroke="none" shape-rendering="crispEdges"/>
<path d="M354.2 674.4 L359.8 650.6 L361.0 642.9 L364.0 642.1 L364.9 630.2 L366.6 628.0 L369.1 627.6 L370.0 609.3 L371.7 605.5 L375.1 605.1 L376.3 603.8 L379.7 603.4 L381.0 613.2 L381.9 618.3 L383.1 615.7 L384.4 605.5 L386.1 597.0 L388.7 594.0 L391.2 596.2 L392.9 605.5 L393.8 618.3 L396.3 618.3 L398.9 609.8 L400.6 597.9 L403.1 596.2 L404.8 598.7 L405.7 605.5 L408.2 604.7 L409.5 586.8 L411.6 585.1 L414.2 586.0 L415.9 588.5 L420.0 591.1 L420.0 612.3 L415.0 612.3 L411.6 615.7 L410.8 631.0 L408.2 634.4 L404.8 633.6 L403.1 630.2 L401.0 631.0 L400.6 649.7 L398.0 656.5 L395.5 657.4 L393.4 654.8 L392.1 639.5 L391.2 627.6 L389.5 627.6 L387.0 631.0 L385.3 639.5 L383.6 642.9 L381.0 641.2 L380.2 637.8 L375.9 641.2 L370.8 648.0 L366.6 654.8 L364.0 661.6 L363.6 682.0 L362.7 689.7 L359.8 690.5 L357.2 687.1 L354.7 677.8 Z" fill="#00AAFF" stroke="none" shape-rendering="crispEdges"/>
<path d="M299.8 812.7 L302.3 808.4 L306.6 807.2 L310.8 803.3 L313.9 805.9 L315.2 816.1 L312.2 828.0 L307.8 839.9 L303.3 850.9 L298.2 856.0 L297.2 850.1 L298.9 838.2 Z" fill="#00AAFF" stroke="none" shape-rendering="crispEdges"/>
<path d="M314.6 826.3 L321.0 822.9 L324.8 821.2 L328.7 797.3 L330.9 788.8 L332.9 763.3 L338.0 759.9 L344.0 748.0 L345.7 729.3 L350.8 726.8 L352.5 705.5 L354.2 686.8 L352.0 686.8 L345.7 710.6 L338.9 736.1 L332.6 759.1 L325.8 783.7 L319.3 809.3 Z" fill="#00AAFF" stroke="none" shape-rendering="crispEdges"/>
<path d="M173.5 1009.7 L173.3 1004.6 L173.0 998.9 L172.7 993.2 L172.5 988.1 L172.7 984.1 L173.5 981.6 L173.9 981.2 L174.4 980.8 L175.0 980.6 L175.5 980.6 L176.0 980.6 L176.5 980.8 L177.2 982.2 L177.7 984.8 L178.1 988.0 L178.4 991.1 L178.7 993.5 L179.1 994.4 L179.7 993.1 L180.3 989.9 L180.9 985.7 L181.5 981.5 L182.1 978.3 L182.6 977.0 L183.2 980.0 L183.6 987.4 L183.9 997.0 L184.2 1006.6 L184.6 1013.9 L185.0 1016.9 L185.5 1014.1 L186.1 1007.0 L186.8 997.8 L187.4 988.6 L188.1 981.5 L188.8 978.7 L189.3 980.5 L189.9 985.1 L190.4 991.0 L191.0 996.9 L191.6 1001.5 L192.2 1003.3 L192.8 1001.6 L193.5 997.4 L194.2 991.8 L194.9 986.3 L195.5 982.1 L196.1 980.4 L196.5 981.6 L196.7 984.8 L196.9 989.1 L197.2 993.9 L197.6 998.4 L198.2 1002.0 L198.8 1004.1 L199.6 1006.4 L200.5 1008.5 L201.4 1010.3 L202.2 1011.4 L202.9 1011.8 L204.1 1008.0 L204.9 998.8 L205.6 987.0 L206.1 975.2 L206.6 966.1 L207.1 962.5 L207.6 966.2 L208.1 975.3 L208.5 987.1 L209.0 999.0 L209.5 1008.1 L210.1 1011.8 L211.0 1006.5 L212.1 993.4 L213.3 976.3 L214.5 959.2 L215.6 946.1 L216.5 940.8 L217.0 943.6 L217.3 950.7 L217.5 959.9 L217.9 969.1 L218.3 976.2 L219.0 979.1 L219.6 978.0 L220.3 975.2 L221.1 971.5 L221.9 967.8 L222.6 964.9 L223.3 963.8 L224.1 966.4 L224.9 972.7 L225.5 980.9 L226.1 989.0 L226.8 995.3 L227.5 997.8 L228.5 993.2 L229.5 981.8 L230.5 966.9 L231.6 952.0 L232.9 940.5 L234.3 935.7 L235.0 936.4 L235.6 938.2 L236.4 940.7 L237.1 943.2 L237.8 945.1 L238.6 945.9 L239.4 945.2 L240.2 943.5 L241.0 941.2 L241.8 938.9 L242.6 937.2 L243.3 936.6 L244.3 938.6 L245.3 943.4 L246.1 949.5 L246.9 955.6 L247.7 960.3 L248.4 962.1 L249.1 959.6 L249.7 953.5 L250.2 945.6 L250.7 937.6 L251.4 931.4 L252.2 928.9 L252.8 929.4 L253.5 930.7 L254.2 932.7 L255.0 935.1 L255.7 937.6 L256.4 940.0 L257.3 944.2 L258.1 949.5 L258.9 955.2 L259.7 960.3 L260.5 964.0 L261.5 965.5 L262.4 964.3 L263.5 961.3 L264.6 957.4 L265.7 953.5 L266.7 950.5 L267.5 949.3 L268.0 950.1 L268.5 952.2 L268.9 954.9 L269.3 957.5 L269.6 959.6 L270.0 960.4 L270.4 959.9 L270.8 958.6 L271.2 956.9 L271.5 954.8 L271.9 952.8 L272.2 951.0 L272.5 949.6 L272.7 948.3 L272.9 947.1 L273.0 945.7 L273.2 944.2 L273.4 942.5 L273.6 937.8 L273.6 931.5 L273.6 924.7 L273.7 918.4 L274.2 913.7 L275.1 911.6 L275.8 911.9 L276.7 913.0 L277.6 914.5 L278.5 915.9 L279.4 917.0 L280.2 917.3 L281.5 914.2 L282.3 907.3 L282.9 898.5 L283.4 889.7 L283.9 883.0 L284.7 880.3 L285.5 882.0 L286.4 886.3 L287.3 891.8 L288.2 897.4 L289.1 901.6 L289.8 903.3 L290.6 899.6 L291.1 890.4 L291.5 878.5 L292.0 866.6 L292.6 857.3 L293.6 853.5 L294.2 854.1 L294.8 855.8 L295.5 857.9 L296.2 860.1 L296.8 861.8 L297.4 862.4 L298.1 861.2 L298.5 858.2 L298.9 853.9 L299.2 849.0 L299.6 844.0 L300.0 839.5 L300.4 834.4 L300.8 828.8 L301.1 823.1 L301.6 817.7 L302.5 813.0 L303.8 809.5 L304.8 808.0 L306.0 806.7 L307.3 805.6 L308.6 804.8 L309.8 804.3 L310.8 804.4 L312.0 806.3 L312.8 810.1 L313.5 815.0 L314.1 819.9 L314.8 823.7 L315.9 825.5 L316.7 825.5 L317.6 825.2 L318.5 824.5 L319.4 823.6 L320.3 822.6 L321.0 821.6 L321.8 819.7 L322.2 817.2 L322.5 814.5 L322.7 811.6 L323.1 808.8 L323.6 806.3 L324.3 804.3 L325.2 802.5 L326.2 800.7 L327.1 798.9 L328.0 797.0 L328.7 794.8 L329.4 791.5 L329.9 787.9 L330.3 784.0 L330.6 780.0 L330.9 776.0 L331.2 771.9 L331.6 766.7 L332.0 760.7 L332.3 754.6 L332.7 749.2 L333.2 745.3 L333.8 743.8 L334.3 744.9 L334.8 747.7 L335.4 751.4 L336.1 755.0 L336.8 757.9 L337.6 759.1 L338.5 758.6 L339.5 757.1 L340.6 755.0 L341.7 752.5 L342.6 750.0 L343.3 747.7 L343.7 745.5 L343.7 743.2 L343.6 740.9 L343.6 738.6 L343.7 736.4 L344.2 734.4 L345.0 732.9 L346.1 731.6 L347.4 730.3 L348.6 729.1 L349.7 727.6 L350.6 725.9 L351.3 722.7 L351.5 718.9 L351.4 714.7 L351.3 710.3 L351.1 706.0 L351.3 701.8 L351.7 697.2 L352.0 692.1 L352.5 686.9 L353.1 682.3 L353.9 679.1 L354.8 677.7 L355.6 678.4 L356.6 680.2 L357.7 682.7 L358.7 685.1 L359.7 687.0 L360.5 687.6 L361.5 685.0 L361.8 678.7 L361.9 670.1 L361.9 660.7 L362.0 651.9 L362.6 645.1 L363.1 641.7 L363.7 638.3 L364.4 635.0 L365.1 632.3 L366.0 630.4 L366.9 629.5 L367.6 629.7 L368.3 630.5 L369.1 631.6 L369.8 632.7 L370.5 633.5 L371.1 633.7 L371.8 631.7 L371.8 627.1 L371.5 621.3 L371.3 615.2 L371.5 610.0 L372.5 606.8 L373.3 606.1 L374.2 605.5 L375.3 605.1 L376.3 604.9 L377.3 605.0 L378.2 605.4 L379.8 608.8 L380.8 615.3 L381.5 623.4 L382.0 631.2 L382.5 637.1 L383.2 639.4 L384.0 636.2 L384.8 628.2 L385.6 617.8 L386.4 607.4 L387.2 599.4 L388.1 596.2 L389.2 600.6 L390.4 611.4 L391.5 625.6 L392.8 639.8 L394.0 650.6 L395.2 655.0 L396.4 650.8 L397.6 640.3 L398.8 626.7 L400.0 613.0 L401.2 602.5 L402.3 598.3 L403.1 600.7 L403.8 606.8 L404.5 614.6 L405.2 622.5 L405.9 628.5 L406.6 630.9 L407.2 627.9 L407.6 620.2 L408.0 610.2 L408.6 600.0 L409.7 591.7 L411.5 587.6 L412.6 587.3 L414.0 587.4 L415.4 588.0 L416.9 588.8 L418.2 589.9 L419.3 591.2 L420.8 595.3 L421.7 601.5 L422.1 608.7 L422.5 615.4 L422.9 620.4 L423.6 622.4 L424.5 621.4 L425.4 618.8 L426.4 615.0 L427.5 610.6 L428.4 606.3 L429.2 602.5 L429.8 599.2 L430.3 595.9 L430.8 592.7 L431.2 589.4 L431.6 586.0 L432.1 582.7 L432.7 578.7 L433.2 574.1 L433.8 569.4 L434.4 565.4 L435.0 562.5 L435.6 561.4 L436.5 564.7 L437.4 572.8 L438.3 583.4 L439.2 594.0 L440.2 602.1 L441.3 605.4 L442.2 603.2 L443.2 597.5 L444.1 590.2 L445.2 582.7 L446.3 576.8 L447.7 574.2 L448.4 574.2 L449.1 574.7 L449.8 575.4 L450.6 576.3 L451.3 577.3 L451.9 578.4 L452.8 580.9 L453.7 584.4 L454.4 588.3 L455.0 591.8 L455.6 594.4 L456.2 595.4 L456.8 594.5 L457.4 592.0 L457.9 588.6 L458.4 584.6 L458.8 580.5 L459.1 576.9 L459.2 573.0 L459.1 568.7 L458.9 564.4 L458.8 560.3 L459.1 556.8 L459.8 554.3 L460.4 553.6 L461.1 553.1 L461.9 552.8 L462.7 552.5 L463.4 552.1 L464.1 551.4 L465.1 549.2 L465.8 546.1 L466.5 542.5 L467.1 539.3 L467.7 536.8 L468.3 535.9 L468.9 536.8 L469.6 539.2 L470.2 542.3 L470.8 545.3 L471.4 547.7 L471.9 548.6 L472.4 547.1 L472.8 543.2 L473.0 537.9 L473.2 532.0 L473.5 526.3 L474.0 521.7 L474.4 519.0 L474.9 516.3 L475.4 513.7 L476.0 511.4 L476.7 509.3 L477.5 507.5 L478.2 506.6 L478.9 506.0 L479.7 505.5 L480.5 504.9 L481.2 504.2 L481.8 503.3 L482.5 500.7 L482.7 497.4 L482.8 493.6 L482.6 489.6 L482.5 485.7 L482.5 482.0 L482.5 478.7 L482.5 475.3 L482.4 471.9 L482.4 468.7 L482.6 465.9 L483.2 463.6 L483.7 462.5 L484.2 461.5 L484.9 460.6 L485.5 459.9 L486.2 459.4 L486.8 459.3 L487.7 460.1 L488.5 462.0 L489.4 464.5 L490.3 466.8 L491.0 468.6 L491.7 469.3 L492.4 468.1 L493.0 465.3 L493.4 461.3 L493.7 456.8 L494.1 452.1 L494.5 448.0 L495.0 443.3 L495.4 437.8 L495.9 432.2 L496.3 427.3 L496.8 423.8 L497.4 422.5 L498.1 424.7 L498.9 430.2 L499.8 437.4 L500.7 444.6 L501.5 450.1 L502.3 452.3 L502.9 451.1 L503.5 447.9 L504.1 443.4 L504.7 438.4 L505.3 433.6 L505.9 429.6 L506.5 427.1 L507.1 424.8 L507.7 422.6 L508.4 420.4 L508.9 418.0 L509.4 415.4 L509.9 410.9 L510.2 405.7 L510.4 400.1 L510.6 394.7 L510.7 389.8 L510.8 385.7 L510.8 383.8 L510.8 381.8 L510.7 380.0 L510.7 378.5 L510.8 377.4 L511.1 377.0 L511.6 377.6 L512.4 379.4 L513.3 381.6 L514.2 383.9 L515.0 385.6 L515.7 386.2 L516.4 384.9 L516.8 381.8 L517.0 377.3 L517.1 372.2 L517.3 367.0 L517.5 362.3 L517.7 356.7 L517.6 350.2 L517.6 343.6 L517.7 337.7 L518.3 333.2 L519.4 330.9 L520.1 330.7 L520.9 330.7 L521.7 331.0 L522.6 331.4 L523.3 332.0 L524.0 332.8 L525.1 336.4 L525.6 342.2 L525.7 349.0 L525.6 355.5 L525.6 360.4 L525.8 362.3 L526.3 357.8 L526.9 346.5 L527.4 331.9 L528.0 317.2 L528.7 305.9 L529.5 301.4 L530.2 304.2 L530.9 311.4 L531.6 320.7 L532.4 330.0 L533.2 337.2 L534.1 340.1 L534.7 339.4 L535.3 337.4 L536.0 334.4 L536.6 330.9 L537.2 327.2 L537.8 323.5 L538.5 316.2 L538.9 306.6 L539.3 296.5 L539.7 287.2 L540.4 280.4 L541.5 277.5 L542.1 277.8 L542.7 278.9 L543.4 280.2 L544.0 281.6 L544.6 282.7 L545.2 283.0 L546.0 281.4 L546.6 277.7 L547.1 272.6 L547.5 266.9 L548.1 261.5 L548.8 257.2 L549.5 254.7 L550.2 252.2 L550.9 249.9 L551.8 247.8 L552.6 245.9 L553.5 244.3 L554.1 243.5 L554.7 243.0 L555.4 242.5 L556.0 242.0 L556.6 241.4 L557.1 240.6 L557.8 238.2 L558.1 234.9 L558.3 231.1 L558.6 227.4 L559.0 224.3 L559.9 222.2 L560.6 221.6 L561.3 221.4 L562.2 221.2 L563.0 221.1 L563.8 220.8 L564.5 220.3 L565.4 218.7 L566.2 216.5 L566.8 213.9 L567.2 211.1 L567.7 208.3 L568.2 205.6 L568.7 202.5 L569.1 199.0 L569.5 195.4 L569.9 192.2 L570.4 189.9 L571.0 189.0 L571.7 189.8 L572.4 191.8 L573.2 194.5 L574.1 197.2 L574.9 199.2 L575.6 200.0 L576.3 199.3 L577.0 197.5 L577.6 194.9 L578.2 191.8 L578.8 188.5 L579.3 185.3 L579.8 179.7 L580.1 173.0 L580.2 165.8 L580.4 158.8 L581.0 152.8 L582.0 148.4 L582.7 147.0 L583.4 145.6 L584.2 144.5 L585.1 143.6 L585.9 143.0 L586.6 142.9 L587.5 144.0 L588.3 146.4 L589.0 149.4 L589.7 152.5 L590.4 154.8 L591.2 155.8 L591.8 155.3 L592.4 153.9 L593.0 152.1 L593.6 150.4 L594.2 149.0 L594.9 148.4 L595.8 149.0 L596.9 150.5 L598.0 152.5 L599.0 154.7 L599.9 156.5 L600.5 157.6 L600.6 157.7 L600.7 157.8 L600.8 157.8 L600.8 157.9 L600.9 158.0 L601.0 158.1 L601.5 159.5 L602.2 162.1 L602.9 165.1 L603.7 168.0 L604.4 170.2 L605.0 171.0 L605.8 167.6 L606.3 159.4 L606.7 148.7 L607.1 138.0 L607.6 129.7 L608.4 126.4 L609.3 128.5 L610.3 133.8 L611.3 140.8 L612.4 147.7 L613.5 153.0 L614.4 155.1 L615.4 150.8 L616.3 140.0 L617.0 126.1 L617.7 112.1 L618.5 101.4 L619.4 97.1 L620.2 99.4 L621.1 105.2 L622.0 112.7 L622.9 120.2 L623.9 126.0 L624.8 128.3 L625.6 126.7 L626.4 122.7 L627.1 117.2 L627.9 111.1 L628.8 105.6 L629.8 101.5 L630.4 99.9 L631.0 98.5 L631.6 97.2 L632.2 96.0 L632.9 95.0 L633.7 94.1 L634.3 93.6 L635.0 93.3 L635.7 93.0 L636.4 92.7 L637.1 92.3 L637.7 91.6 L639.0 88.2 L640.1 82.9 L641.0 76.7 L641.8 70.9 L642.7 66.5 L643.7 64.8 L644.5 65.6 L645.2 67.7 L646.0 70.7 L646.8 73.8 L647.6 76.7 L648.6 78.7 L649.2 79.4 L649.9 79.8 L650.7 80.2 L651.4 80.5 L652.0 81.0 L652.6 81.7 L653.4 83.7 L654.0 86.5 L654.4 89.7 L654.8 92.6 L655.2 94.8 L655.6 95.6 L656.3 93.5 L656.9 88.4 L657.6 81.7 L658.2 75.0 L658.9 69.9 L659.6 67.8 L660.1 68.3 L660.6 69.6 L661.0 71.6 L661.5 74.1 L662.0 76.9 L662.5 79.7 L663.5 88.7 L664.4 101.5 L665.3 115.6 L666.3 128.8 L667.3 138.4 L668.5 142.2 L669.6 138.9 L670.9 130.4 L672.2 119.5 L673.5 108.5 L675.0 100.0 L676.4 96.6 L677.8 99.5 L679.3 106.9 L680.9 116.4 L682.4 126.0 L684.0 133.3 L685.4 136.3 L686.5 134.4 L687.7 129.6 L688.8 123.4 L689.9 117.1 L690.9 112.4 L691.8 110.5 L692.7 114.1 L693.3 123.1 L693.7 134.9 L694.2 146.9 L695.2 156.5 L696.8 161.1 L697.5 161.3 L698.2 161.4 L699.0 161.1 L699.8 160.7 L700.5 160.2 L701.1 159.5 L702.1 155.9 L702.4 149.9 L702.3 142.8 L702.3 135.9 L702.5 130.4 L703.4 127.7 L703.9 127.6 L704.5 127.9 L705.1 128.3 L705.7 128.7 L706.3 128.9 L706.8 128.9 L707.6 127.6 L708.1 125.0 L708.5 121.9 L708.9 118.8 L709.4 116.4 L710.2 115.3 L711.0 115.4 L712.0 115.9 L713.0 116.8 L714.0 117.9 L715.0 119.4 L715.9 120.9 L717.5 126.9 L718.6 136.1 L719.4 146.5 L720.0 156.2 L720.7 163.5 L721.5 166.3 L722.5 162.6 L723.5 153.1 L724.5 140.8 L725.6 128.1 L726.9 118.0 L728.4 113.0 L728.8 112.8 L729.1 112.6 L729.5 112.6 L729.9 112.6 L730.2 112.8 L730.6 113.0 L732.0 115.7 L733.4 121.0 L734.9 127.4 L736.3 133.7 L737.5 138.4 L738.6 140.2 L739.5 138.6 L740.1 134.5 L740.7 128.8 L741.1 122.4 L741.5 116.1 L742.0 110.7 L742.4 106.7 L742.7 102.7 L743.0 98.7 L743.3 94.9 L743.7 91.4 L744.2 88.1 L744.6 85.7 L745.0 83.3 L745.5 80.9 L746.0 78.9 L746.7 77.4 L747.6 76.7 L748.7 77.2 L750.1 78.7 L751.6 80.7 L753.1 82.7 L754.5 84.2 L755.6 84.6 L756.7 83.2 L757.4 80.4 L757.8 76.5 L758.2 71.9 L758.5 67.3 L759.0 63.1 L759.7 57.6 L760.5 51.0 L761.2 44.3 L762.0 38.4 L762.7 34.1 L763.5 32.5 L764.3 34.3 L765.2 39.0 L766.0 45.4 L766.8 52.7 L767.5 59.7 L768.1 65.4 L768.4 69.1 L768.5 73.1 L768.6 77.0 L768.7 80.3 L768.9 82.6 L769.2 83.5 L769.7 82.3 L770.4 79.4 L771.1 75.6 L771.8 71.7 L772.6 68.8 L773.2 67.6 L774.0 69.3 L774.7 73.8 L775.3 79.9 L776.0 86.9 L776.5 93.7 L777.1 99.4 L777.5 103.7 L777.8 108.5 L778.2 113.1 L778.5 117.0 L778.9 119.8 L779.4 120.9 L780.0 119.6 L780.6 116.2 L781.4 111.9 L782.1 107.5 L782.8 104.1 L783.4 102.8 L783.9 103.8 L784.4 106.3 L784.9 109.8 L785.3 114.0 L785.7 118.2 L786.2 122.1 L786.8 126.7 L787.4 131.7 L788.0 136.8 L788.6 141.9 L789.2 146.5 L789.6 150.4 L789.8 152.2 L789.9 153.8 L790.1 155.3 L790.2 156.7 L790.4 158.2 L790.6 160.0 L791.1 163.1 L791.7 166.4 L792.3 170.0 L793.0 173.8 L793.7 177.6 L794.2 181.3 L794.5 185.6 L794.6 190.6 L794.6 195.5 L794.8 200.0 L795.3 203.4 L796.3 205.3 L797.0 205.5 L797.8 205.4 L798.6 205.1 L799.5 204.7 L800.4 204.2 L801.3 203.9 L802.2 203.6 L803.2 203.1 L804.2 202.7 L805.2 202.4 L806.1 202.3 L806.9 202.5 L808.0 204.0 L808.8 206.5 L809.3 209.9 L809.7 213.6 L810.1 217.4 L810.5 220.9 L811.0 225.2 L811.3 230.4 L811.5 235.6 L811.9 240.2 L812.4 243.6 L813.3 245.0 L814.2 244.4 L815.3 242.5 L816.5 240.1 L817.7 237.6 L818.8 235.7 L819.7 235.1 L820.6 236.6 L821.2 240.0 L821.6 244.7 L821.9 250.0 L822.2 255.0 L822.5 259.2 L822.7 261.8 L822.8 264.3 L822.9 266.7 L823.0 269.0 L823.3 271.2 L823.9 273.4 L824.8 275.4 L825.9 277.2 L827.3 279.0 L828.6 280.8 L829.9 282.7 L831.0 284.7 L832.0 287.7 L832.9 291.3 L833.7 295.0 L834.5 298.4 L835.2 300.8 L836.0 301.7 L836.7 300.8 L837.4 298.4 L838.1 295.3 L838.8 292.2 L839.5 289.8 L840.2 288.9 L840.8 289.5 L841.5 291.1 L842.1 293.4 L842.7 296.1 L843.3 299.0 L843.8 301.7 L844.4 305.9 L845.0 310.7 L845.4 315.8 L845.8 321.0 L846.2 325.8 L846.6 330.0 L846.8 332.7 L847.0 335.6 L847.2 338.3 L847.4 340.6 L847.7 342.2 L848.0 342.8 L848.7 340.5 L849.6 334.7 L850.6 327.2 L851.7 319.7 L852.8 313.9 L853.7 311.6 L854.6 314.2 L855.3 320.8 L856.1 329.3 L856.9 337.8 L857.7 344.3 L858.6 347.0 L859.4 345.6 L860.3 341.9 L861.3 337.2 L862.2 332.4 L863.0 328.7 L863.6 327.2 L863.7 327.2 L863.8 327.4 L864.0 327.6 L864.1 327.8 L864.2 328.1 L864.3 328.5 L864.9 331.0 L865.7 334.9 L866.6 339.7 L867.5 345.1 L868.3 350.5 L869.2 355.4 L869.9 360.3 L870.5 365.6 L871.1 370.9 L871.8 375.9 L872.8 380.3 L874.2 383.8 L875.2 385.4 L876.4 387.0 L877.7 388.4 L878.9 389.4 L880.2 390.0 L881.3 390.1 L882.7 389.1 L883.9 387.0 L885.1 384.0 L886.2 380.6 L887.3 377.1 L888.3 373.8 L889.6 369.1 L890.7 363.4 L891.8 357.4 L892.9 352.1 L893.8 348.3 L894.7 346.9 L895.5 348.4 L896.1 352.4 L896.7 358.1 L897.2 364.5 L897.7 371.0 L898.3 376.7 L899.0 382.0 L899.6 387.4 L900.3 392.9 L901.0 398.2 L901.8 403.2 L902.5 407.9 L903.0 411.4 L903.6 415.2 L904.1 418.8 L904.7 421.9 L905.3 424.0 L906.1 424.9 L906.8 424.3 L907.5 422.6 L908.2 420.3 L909.0 418.0 L910.0 416.0 L911.0 414.9 L911.9 414.8 L912.9 415.2 L913.9 415.7 L914.9 416.3 L915.9 416.6 L916.7 416.4 L917.9 414.6 L918.8 411.3 L919.3 407.0 L919.8 402.3 L920.3 397.7 L920.9 393.7 L921.6 390.2 L922.3 386.3 L923.1 382.5 L923.8 379.2 L924.5 376.9 L925.2 376.0 L926.0 377.8 L926.8 382.3 L927.6 388.5 L928.3 395.6 L928.9 402.4 L929.4 407.9 L929.7 411.3 L929.9 414.4 L930.1 417.4 L930.3 420.4 L930.5 423.3 L930.9 426.3 L931.4 429.4 L932.1 432.6 L932.8 435.7 L933.5 438.8 L934.3 441.8 L935.1 444.7 L935.8 447.4 L936.5 450.4 L937.2 453.3 L937.9 455.8 L938.7 457.5 L939.4 458.2 L940.2 456.9 L940.9 453.6 L941.7 449.3 L942.5 444.8 L943.6 441.1 L945.0 439.0 L946.1 438.6 L947.3 438.5 L948.5 438.7 L949.8 439.1 L951.0 439.7 L952.1 440.4 L953.4 442.1 L954.4 444.7 L955.4 447.7 L956.2 450.4 L957.0 452.5 L957.8 453.2 L958.7 451.5 L959.4 447.6 L960.1 442.5 L960.7 437.4 L961.3 433.5 L962.0 431.9 L962.7 433.0 L963.5 436.0 L964.3 440.2 L965.0 445.1 L965.7 450.1 L966.3 454.6 L966.8 459.8 L967.0 465.6 L967.1 471.6 L967.4 477.1 L968.0 481.6 L969.1 484.4 L969.7 484.9 L970.4 485.1 L971.2 485.1 L971.9 485.2 L972.7 485.3 L973.4 485.8 L975.0 488.7 L976.7 493.5 L978.2 499.0 L979.6 504.4 L980.6 508.3 L981.2 509.9 L981.3 509.9 L981.3 509.8 L981.3 509.6 L981.3 509.5 L981.4 509.2 L981.4 509.0 L981.9 506.3 L982.7 501.6 L983.8 496.0 L985.0 490.6 L986.1 486.6 L987.1 485.0 L988.0 487.2 L988.7 492.6 L989.3 499.7 L990.1 506.9 L991.2 512.7 L992.8 515.4 L994.0 515.1 L995.5 513.8 L997.0 511.9 L998.6 510.0 L1000.1 508.6 L1001.3 508.3 L1002.6 510.2 L1003.5 514.1 L1004.3 519.1 L1005.0 524.0 L1005.8 527.8 L1006.9 529.6 L1007.8 529.3 L1008.7 528.2 L1009.8 526.7 L1010.8 525.3 L1011.7 524.2 L1012.6 523.9 L1013.8 525.6 L1014.6 529.2 L1015.3 534.1 L1016.0 539.4 L1017.0 544.3 L1018.3 548.0 L1019.5 549.7 L1021.0 551.0 L1022.6 552.2 L1024.1 553.3 L1025.6 554.7 L1026.8 556.5 L1028.3 561.1 L1029.4 567.4 L1030.2 574.3 L1030.9 580.6 L1031.6 585.2 L1032.4 587.0 L1033.6 583.7 L1034.8 575.4 L1036.0 564.6 L1037.2 553.9 L1038.4 545.6 L1039.5 542.3 L1040.3 543.7 L1041.0 547.2 L1041.7 552.2 L1042.4 557.8 L1043.1 563.3 L1043.8 567.9 L1044.5 571.1 L1045.1 574.2 L1045.8 577.2 L1046.5 580.2 L1047.2 583.2 L1048.0 586.3 L1048.8 590.2 L1049.6 594.7 L1050.5 599.2 L1051.4 603.2 L1052.5 606.2 L1053.7 607.5 L1054.6 607.4 L1055.5 606.7 L1056.4 605.6 L1057.4 604.3 L1058.4 603.0 L1059.4 601.9 L1060.3 601.0 L1061.3 600.1 L1062.2 599.2 L1063.1 598.3 L1064.0 597.3 L1065.0 596.2 L1066.4 594.1 L1067.9 591.3 L1069.4 588.4 L1070.9 585.8 L1072.3 584.0 L1073.5 583.4 L1074.8 585.3 L1075.8 589.6 L1076.7 595.4 L1077.4 601.6 L1078.2 607.4 L1079.2 611.8 L1079.8 613.6 L1080.4 615.1 L1081.0 616.5 L1081.7 617.8 L1082.5 619.1 L1083.4 620.3 L1084.6 621.6 L1086.0 622.8 L1087.6 623.9 L1089.1 625.0 L1090.6 626.1 L1091.9 627.4 L1093.0 628.8 L1093.9 630.3 L1094.8 631.9 L1095.7 633.4 L1096.6 634.8 L1097.6 635.9 L1098.4 636.5 L1099.3 636.9 L1100.2 637.2 L1101.1 637.5 L1102.0 637.9 L1102.8 638.5 L1103.8 639.6 L1104.8 641.0 L1105.7 642.6 L1106.6 644.2 L1107.5 645.7 L1108.5 647.0 L1109.3 647.8 L1110.2 648.4 L1111.1 649.0 L1112.0 649.6 L1112.8 650.3 L1113.5 651.3 L1114.3 653.9 L1114.8 657.3 L1114.9 661.2 L1115.0 665.2 L1115.2 669.1 L1115.6 672.5 L1116.1 675.0 L1116.6 677.7 L1117.2 680.3 L1117.8 682.5 L1118.4 684.0 L1119.1 684.6 L1119.8 683.8 L1120.5 681.8 L1121.2 679.2 L1122.0 676.6 L1122.7 674.7 L1123.4 673.9 L1124.2 674.8 L1124.9 677.2 L1125.7 680.6 L1126.4 684.3 L1127.0 687.9 L1127.6 690.9 L1128.0 693.1 L1128.4 695.4 L1128.7 697.7 L1129.0 699.7 L1129.4 701.1 L1129.8 701.6 L1130.6 699.6 L1131.5 694.4 L1132.4 687.8 L1133.4 681.1 L1134.4 676.0 L1135.4 673.9 L1136.1 674.7 L1136.8 676.8 L1137.6 679.7 L1138.3 683.1 L1139.0 686.5 L1139.7 689.5 L1140.4 692.1 L1141.1 694.7 L1141.8 697.2 L1142.5 699.8 L1143.2 702.4 L1143.9 705.1 L1144.6 708.2 L1145.3 711.7 L1146.1 715.3 L1146.8 718.5 L1147.8 721.1 L1148.9 722.8 L1149.5 723.3 L1150.3 723.6 L1151.0 723.8 L1151.7 723.9 L1152.4 723.8 L1153.1 723.5 L1154.3 721.5 L1155.4 717.8 L1156.3 713.3 L1157.2 709.0 L1158.0 705.7 L1158.8 704.4 L1159.5 705.1 L1160.1 706.8 L1160.7 709.3 L1161.2 712.2 L1161.8 715.2 L1162.3 717.9 L1162.8 721.0 L1163.3 724.3 L1163.7 727.7 L1164.2 731.1 L1164.6 734.5 L1165.2 737.7 L1165.8 740.6 L1166.5 743.5 L1167.2 746.3 L1167.9 749.1 L1168.7 751.9 L1169.4 754.7 L1170.1 757.7 L1170.7 761.0 L1171.3 764.3 L1171.9 767.2 L1172.7 769.3 L1173.7 770.3 L1174.5 770.2 L1175.5 769.6 L1176.5 768.6 L1177.5 767.3 L1178.5 765.9 L1179.4 764.6 L1180.5 762.3 L1181.4 759.4 L1182.3 756.2 L1183.2 753.4 L1184.0 751.3 L1185.0 750.4 L1185.9 750.8 L1186.9 752.1 L1187.9 753.9 L1188.9 756.0 L1189.8 758.3 L1190.7 760.4 L1191.7 763.2 L1192.7 766.2 L1193.6 769.4 L1194.5 772.7 L1195.4 775.9 L1196.4 778.8 L1197.3 781.1 L1198.3 783.2 L1199.3 785.2 L1200.3 787.3 L1201.2 789.4 L1202.0 791.5 L1202.8 794.1 L1203.5 797.2 L1204.2 800.3 L1204.8 803.0 L1205.3 804.9 L1205.6 805.7 L1205.6 805.7 L1205.6 805.7 L1205.6 805.6 L1205.7 805.6 L1205.7 805.5 L1205.7 805.5 L1206.2 805.8 L1207.2 806.6 L1208.4 807.9 L1209.8 809.4 L1211.0 811.0 L1212.0 812.6 L1212.9 814.6 L1213.6 816.9 L1214.2 819.4 L1214.7 821.9 L1215.1 824.4 L1215.6 826.8 L1216.0 829.0 L1216.2 831.2 L1216.5 833.5 L1216.7 835.6 L1217.1 837.6 L1217.7 839.5 L1218.4 840.8 L1219.1 842.1 L1220.0 843.2 L1220.9 844.3 L1221.8 845.4 L1222.7 846.6 L1223.6 848.0 L1224.5 849.4 L1225.4 850.9 L1226.3 852.3 L1227.3 853.8 L1228.3 855.1 L1229.4 856.5 L1230.6 858.0 L1231.8 859.5 L1233.1 860.8 L1234.3 861.8 L1235.4 862.2 L1236.2 862.2 L1236.9 861.9 L1237.7 861.5 L1238.4 860.9 L1239.1 860.2 L1239.7 859.4 L1240.5 857.6 L1241.0 855.1 L1241.4 852.3 L1241.9 849.7 L1242.4 847.6 L1243.2 846.6 L1243.8 846.5 L1244.6 846.7 L1245.4 847.2 L1246.1 847.8 L1246.9 848.6 L1247.5 849.4 L1248.4 851.6 L1249.0 854.7 L1249.3 858.3 L1249.6 862.1 L1249.9 865.9 L1250.3 869.3 L1250.8 872.4 L1251.4 875.8 L1251.9 879.2 L1252.5 882.1 L1253.1 884.1 L1253.8 884.9 L1254.4 884.2 L1255.1 882.4 L1255.8 879.9 L1256.5 877.0 L1257.3 874.3 L1258.1 872.1 L1258.8 870.6 L1259.5 869.0 L1260.2 867.4 L1260.9 866.2 L1261.6 865.3 L1262.3 865.0 L1263.1 865.9 L1263.7 867.9 L1264.2 870.8 L1264.9 873.9 L1265.6 876.9 L1266.6 879.2 L1267.6 880.7 L1268.7 882.1 L1269.9 883.4 L1271.2 884.5 L1272.5 885.5 L1273.7 886.3 L1274.6 886.8 L1275.6 887.1 L1276.5 887.3 L1277.4 887.5 L1278.4 887.6 L1279.4 887.7 L1280.6 887.7 L1281.8 887.5 L1283.1 887.3 L1284.3 887.2 L1285.4 887.3 L1286.4 887.7 L1287.5 889.1 L1288.4 891.2 L1289.1 893.7 L1289.6 896.5 L1290.1 899.3 L1290.7 901.9 L1291.2 904.2 L1291.7 906.6 L1292.1 908.9 L1292.5 911.2 L1292.9 913.6 L1293.5 916.0 L1294.3 918.8 L1295.1 921.8 L1296.0 924.8 L1297.0 927.8 L1298.1 930.5 L1299.2 933.0 L1300.1 934.7 L1300.9 936.5 L1301.8 938.1 L1302.8 939.5 L1303.8 940.7 L1304.9 941.5 L1305.8 941.8 L1306.7 941.9 L1307.6 941.9 L1308.5 941.8 L1309.5 941.6 L1310.5 941.5 L1311.7 941.3 L1312.9 940.9 L1314.1 940.4 L1315.3 940.1 L1316.5 939.9 L1317.6 940.1 L1318.7 940.7 L1319.7 941.8 L1320.6 943.0 L1321.5 944.4 L1322.4 945.9 L1323.3 947.2 L1324.2 948.6 L1325.2 950.0 L1326.1 951.5 L1327.0 952.9 L1327.9 954.4 L1328.9 955.7 L1329.9 957.1 L1331.0 958.6 L1332.1 960.2 L1333.2 961.4 L1334.3 962.3 L1335.3 962.5 L1336.5 961.3 L1337.5 958.6 L1338.5 955.2 L1339.5 951.9 L1340.4 949.3 L1341.3 948.3 L1342.1 948.8 L1342.8 950.0 L1343.6 951.8 L1344.3 953.9 L1344.9 956.2 L1345.5 958.3 L1346.1 961.4 L1346.4 964.8 L1346.6 968.5 L1346.8 972.2 L1347.1 975.9 L1347.6 979.5 L1348.2 983.2 L1348.9 987.3 L1349.7 991.4 L1350.5 994.9 L1351.5 997.5 L1352.6 998.6 L1353.4 998.2 L1354.3 996.9 L1355.3 995.1 L1356.3 993.2 L1357.3 991.7 L1358.3 990.9 L1359.0 990.8 L1359.7 990.8 L1360.5 991.0 L1361.2 991.3 L1361.9 991.7 L1362.5 992.3 L1363.5 994.4 L1364.1 997.6 L1364.6 1001.4 L1365.2 1005.1 L1365.8 1007.9 L1366.8 1009.3 L1367.6 1009.1 L1368.6 1008.3 L1369.6 1007.2 L1370.6 1006.1 L1371.5 1005.2 L1372.4 1005.0 L1373.2 1005.4 L1374.0 1006.3 L1374.7 1007.5 L1375.4 1009.0 L1376.1 1010.5 L1376.7 1012.1 L1377.5 1014.7 L1378.2 1017.7 L1378.8 1021.0 L1379.4 1024.3 L1380.1 1027.5 L1380.9 1030.5 L1381.7 1033.1 L1382.6 1035.9 L1383.5 1038.6 L1384.5 1041.0 L1385.5 1042.7 L1386.6 1043.3 L1387.9 1042.2 L1389.2 1039.4 L1390.7 1035.8 L1392.1 1032.1 L1393.6 1029.1 L1395.1 1027.7 L1396.1 1027.7 L1397.0 1028.1 L1398.0 1028.8 L1399.0 1029.7 L1399.9 1030.8 L1400.8 1031.9 L1401.9 1033.8 L1402.9 1036.1 L1403.8 1038.7 L1404.6 1041.6 L1405.5 1044.5 L1406.4 1047.5 L1407.7 1052.2 L1409.0 1057.9 L1410.4 1063.9 L1411.7 1069.2 L1413.0 1073.0 L1414.2 1074.5 L1415.0 1073.5 L1415.8 1071.0 L1416.5 1067.5 L1417.3 1063.7 L1418.1 1060.1 L1419.2 1057.5 L1420.0 1056.3 L1421.0 1055.3 L1421.9 1054.5 L1422.9 1053.7 L1423.9 1052.8 L1424.9 1051.8 L1426.1 1050.1 L1427.3 1048.0 L1428.5 1045.8 L1429.6 1043.8 L1430.8 1042.4 L1431.9 1041.9 L1432.9 1042.5 L1433.8 1043.9 L1434.7 1045.7 L1435.6 1047.7 L1436.6 1049.4 L1437.6 1050.4 L1438.3 1050.7 L1439.0 1050.8 L1439.8 1050.9 L1440.5 1050.8 L1441.2 1050.6 L1441.9 1050.4 L1442.6 1049.9 L1443.3 1049.1 L1444.0 1048.2 L1444.7 1047.4 L1445.4 1046.8 L1446.0 1046.6 L1446.9 1047.1 L1447.7 1048.3 L1448.6 1050.0 L1449.4 1051.9 L1450.2 1053.8 L1450.9 1055.6 L1451.6 1057.7 L1452.1 1060.1 L1452.5 1062.7 L1453.0 1064.9 L1453.6 1066.6 L1454.4 1067.5 L1455.0 1067.5 L1455.7 1067.1 L1456.5 1066.4 L1457.2 1065.7 L1458.0 1065.0 L1458.8 1064.5 L1459.5 1064.2 L1460.3 1063.9 L1461.0 1063.6 L1461.8 1063.4 L1462.5 1063.4 L1463.3 1063.5 L1464.4 1064.2 L1465.4 1065.5 L1466.4 1067.1 L1467.5 1068.6 L1468.6 1069.8 L1469.8 1070.4 L1471.2 1070.1 L1472.8 1069.1 L1474.4 1067.8 L1476.0 1066.5 L1477.5 1065.6 L1478.7 1065.5 L1479.8 1066.5 L1480.6 1068.4 L1481.2 1070.9 L1481.7 1073.5 L1482.1 1076.2 L1482.7 1078.4 L1483.2 1080.0 L1483.7 1081.5 L1484.2 1082.9 L1484.7 1084.4 L1485.1 1085.8 L1485.6 1087.3 L1486.1 1089.1 L1486.5 1091.2 L1486.9 1093.3 L1487.4 1095.2 L1487.9 1096.6 L1488.6 1097.2 L1489.4 1096.9 L1490.4 1095.9 L1491.5 1094.5 L1492.6 1092.8 L1493.7 1091.0 L1494.6 1089.3 L1495.5 1087.4 L1496.3 1085.3 L1497.0 1083.1 L1497.8 1080.9 L1498.6 1079.0 L1499.5 1077.4 L1500.2 1076.5 L1501.0 1075.6 L1501.8 1074.9 L1502.6 1074.3 L1503.5 1073.8 L1504.5 1073.4 L1505.9 1073.1 L1507.4 1073.0 L1509.1 1073.0 L1510.7 1073.2 L1512.2 1073.7 L1513.4 1074.4 L1514.5 1075.6 L1515.2 1077.1 L1515.9 1079.0 L1516.4 1081.0 L1516.9 1083.2 L1517.4 1085.3 L1518.1 1088.2 L1518.8 1091.3 L1519.4 1094.6 L1520.0 1097.9 L1520.7 1101.2 L1521.3 1104.2 L1521.9 1107.0 L1522.4 1110.0 L1522.9 1113.0 L1523.5 1115.5 L1524.1 1117.4 L1524.8 1118.1 L1525.5 1117.7 L1526.2 1116.6 L1527.0 1115.0 L1527.8 1113.0 L1528.6 1111.0 L1529.3 1109.1 L1530.0 1106.4 L1530.6 1103.3 L1531.0 1100.0 L1531.6 1096.9 L1532.3 1094.2 L1533.3 1092.3 L1534.0 1091.6 L1534.8 1091.1 L1535.6 1090.8 L1536.5 1090.5 L1537.3 1090.4 L1538.2 1090.3 L1539.0 1090.4 L1539.9 1090.6 L1540.8 1091.0 L1541.7 1091.3 L1542.5 1091.4 L1543.2 1091.3 L1543.9 1090.8 L1544.4 1089.9 L1544.8 1088.9 L1545.3 1087.7 L1545.7 1086.5 L1546.2 1085.3 L1547.0 1083.4 L1547.8 1081.1 L1548.7 1078.7 L1549.5 1076.5 L1550.3 1075.0 L1551.1 1074.4 L1551.9 1075.2 L1552.6 1077.2 L1553.2 1080.0 L1553.8 1083.2 L1554.5 1086.5 L1555.1 1089.3 L1555.7 1092.3 L1556.3 1095.7 L1556.9 1099.1 L1557.5 1102.1 L1558.2 1104.3 L1559.0 1105.2 L1559.6 1105.0 L1560.3 1104.3 L1561.0 1103.2 L1561.7 1101.9 L1562.4 1100.5 L1563.0 1099.2 L1563.7 1097.5 L1564.3 1095.5 L1564.9 1093.4 L1565.5 1091.3 L1566.2 1089.2 L1567.0 1087.3 L1567.9 1085.6 L1568.8 1083.7 L1569.8 1081.9 L1570.8 1080.3 L1571.9 1079.1 L1572.9 1078.4 L1573.6 1078.2 L1574.3 1078.2 L1575.0 1078.3 L1575.7 1078.6 L1576.4 1078.9 L1576.9 1079.4 L1577.5 1080.4 L1577.9 1081.9 L1578.1 1083.6 L1578.2 1085.5 L1578.4 1087.5 L1578.8 1089.4 L1579.6 1092.5 L1580.5 1096.3 L1581.6 1100.3 L1582.7 1103.8 L1583.8 1106.3 L1584.8 1107.3 L1585.7 1106.4 L1586.5 1103.9 L1587.3 1100.5 L1588.1 1096.6 L1588.9 1092.7 L1589.8 1089.4 L1590.7 1086.3 L1591.7 1082.9 L1592.7 1079.5 L1593.8 1076.5 L1594.8 1074.4 L1595.7 1073.6 L1596.4 1074.1 L1597.1 1075.3 L1597.8 1077.1 L1598.4 1079.3 L1599.1 1081.5 L1599.7 1083.5 L1600.4 1086.0 L1601.1 1088.6 L1601.7 1091.4 L1602.4 1094.2 L1603.0 1096.9 L1603.7 1099.4 L1604.3 1101.6 L1604.9 1104.0 L1605.5 1106.3 L1606.1 1108.3 L1606.8 1109.7 L1607.6 1110.3 L1608.5 1109.8 L1609.4 1108.3 L1610.3 1106.2 L1611.4 1104.0 L1612.5 1101.9 L1613.6 1100.4 L1614.5 1099.7 L1615.4 1099.1 L1616.4 1098.7 L1617.4 1098.3 L1618.5 1097.9 L1619.5 1097.4 L1620.8 1096.6 L1622.2 1095.7 L1623.7 1094.8 L1625.1 1094.0 L1626.4 1093.4 L1627.5 1093.4 L1628.3 1093.7 L1629.0 1094.4 L1629.7 1095.2 L1630.2 1096.2 L1630.8 1097.3 L1631.4 1098.4 L1632.3 1100.5 L1633.2 1103.0 L1634.0 1105.8 L1634.8 1108.7 L1635.6 1111.5 L1636.4 1114.2 L1637.0 1116.7 L1637.5 1119.4 L1638.0 1122.1 L1638.6 1124.6 L1639.3 1126.6 L1640.4 1128.1 L1641.4 1128.6 L1642.5 1128.8 L1643.7 1128.8 L1645.0 1128.8 L1646.2 1128.8 L1647.3 1129.1 L1648.2 1129.6 L1649.1 1130.1 L1650.0 1130.7 L1650.8 1131.4 L1651.6 1132.2 L1652.3 1133.1 L1653.1 1134.5 L1653.8 1136.2 L1654.4 1138.1 L1655.0 1140.0 L1655.6 1142.0 L1656.2 1144.0 L1657.0 1146.5 L1657.7 1149.4 L1658.5 1152.4 L1659.3 1155.0 L1660.2 1157.0 L1661.2 1157.9 L1662.1 1157.6 L1663.0 1156.7 L1664.0 1155.4 L1665.0 1153.9 L1666.1 1152.7 L1667.1 1151.9 L1667.9 1151.7 L1668.8 1151.6 L1669.6 1151.7 L1670.5 1151.8 L1671.3 1151.9 L1672.1 1151.9 L1672.8 1151.8 L1673.5 1151.8 L1674.2 1151.7 L1674.8 1151.6 L1675.5 1151.4 L1676.1 1151.0 L1676.9 1150.2 L1677.7 1149.2 L1678.4 1147.9 L1679.1 1146.6 L1679.8 1145.2 L1680.5 1144.0" fill="none" stroke="#00AAFF" stroke-width="5" stroke-linejoin="round" stroke-linecap="round" shape-rendering="crispEdges"/>
<path d="M173.4 989.7 L175.4 989.1 L177.4 988.5 L179.4 987.9 L181.4 987.4 L183.4 986.8 L185.4 986.3 L187.4 985.8 L189.4 985.3 L191.4 984.8 L193.4 984.3 L195.4 983.7 L197.4 983.2 L199.4 982.7 L201.4 982.1 L203.4 981.6 L205.4 981.0 L207.4 980.4 L209.4 979.7 L211.4 979.1 L213.4 978.4 L215.4 977.6 L217.4 976.8 L219.4 976.0 L221.4 975.1 L223.4 974.2 L225.4 973.2 L227.4 972.2 L229.4 971.1 L231.4 969.9 L233.4 968.7 L235.4 967.4 L237.4 966.0 L239.4 964.6 L241.4 963.0 L243.4 961.4 L245.4 959.7 L247.4 957.9 L249.4 956.0 L251.4 954.0 L253.4 952.0 L255.4 949.8 L257.4 947.5 L259.4 945.0 L261.4 942.5 L263.4 939.9 L265.4 937.1 L267.4 934.2 L269.4 931.2 L271.4 928.1 L273.4 924.8 L275.4 921.4 L277.4 917.8 L279.4 914.1 L281.4 910.2 L283.4 906.2 L285.4 902.1 L287.4 897.8 L289.4 893.3 L291.4 888.6 L293.4 883.8 L295.4 878.9 L297.4 873.7 L299.4 868.4 L301.4 862.9 L303.4 857.2 L305.4 851.3 L307.4 845.2 L309.4 838.9 L311.4 832.5 L313.4 825.8 L315.4 819.0 L317.4 812.0 L319.4 804.8 L321.4 797.6 L323.4 790.2 L325.4 782.7 L327.4 775.2 L329.4 767.6 L331.4 759.9 L333.4 752.2 L335.4 744.6 L337.4 737.0 L339.4 729.6 L341.4 722.3 L343.4 715.2 L345.4 708.5 L347.4 702.0 L349.4 695.8 L351.4 690.0 L353.4 684.4 L355.4 679.2 L357.4 674.2 L359.4 669.5 L361.4 665.0 L363.4 660.8 L365.4 656.8 L367.4 653.1 L369.4 649.6 L371.4 646.3 L373.4 643.2 L375.4 640.3 L377.4 637.6 L379.4 635.1 L381.4 632.8 L383.4 630.6 L385.4 628.6 L387.4 626.7 L389.4 624.9 L391.4 623.3 L393.4 621.8 L395.4 620.4 L397.4 619.0 L399.4 617.8 L401.4 616.7 L403.4 615.5 L405.4 614.5 L407.4 613.4 L409.4 612.3 L411.4 611.3 L413.4 610.2 L415.4 609.0 L417.4 607.8 L419.4 606.6 L421.4 605.2 L423.4 603.7 L425.4 602.1 L427.4 600.4 L429.4 598.5 L431.4 596.5 L433.4 594.3 L435.4 591.9 L437.4 589.2 L439.4 586.4 L441.4 583.3 L443.4 579.9 L445.4 576.3 L447.4 572.5 L449.4 568.5 L451.4 564.2 L453.4 559.8 L455.4 555.2 L457.4 550.4 L459.4 545.5 L461.4 540.4 L463.4 535.2 L465.4 529.8 L467.4 524.4 L469.4 518.8 L471.4 513.1 L473.4 507.4 L475.4 501.6 L477.4 495.7 L479.4 489.7 L481.4 483.7 L483.4 477.7 L485.4 471.7 L487.4 465.6 L489.4 459.6 L491.4 453.5 L493.4 447.5 L495.4 441.5 L497.4 435.5 L499.4 429.6 L501.4 423.6 L503.4 417.5 L505.4 411.2 L507.4 404.7 L509.4 398.0 L511.4 391.3 L513.4 384.7 L515.4 378.6 L517.4 372.8 L519.4 367.4 L521.4 362.2 L523.4 356.8 L525.4 351.2 L527.4 345.4 L529.4 339.5 L531.4 333.7 L533.4 328.1 L535.4 322.9 L537.4 318.2 L539.4 313.2 L541.4 307.5 L543.4 300.5 L545.4 291.6 L547.4 282.1 L549.4 276.1 L551.4 272.9 L553.4 268.9 L555.4 262.1 L557.4 254.6 L559.4 248.9 L561.4 244.5 L563.4 239.3 L565.4 233.5 L567.4 227.3 L569.4 221.1 L571.4 215.1 L573.4 209.6 L575.4 204.6 L577.4 200.1 L579.4 195.8 L581.4 191.8 L583.4 188.0 L585.4 184.3 L587.4 180.7 L589.4 177.0 L591.4 173.4 L593.4 169.7 L595.4 166.1 L597.4 162.5 L599.4 159.0 L601.4 155.4 L603.4 151.9 L605.4 148.5 L607.4 145.1 L609.4 141.7 L611.4 138.5 L613.4 135.2 L615.4 132.1 L617.4 129.1 L619.4 126.1 L621.4 123.2 L623.4 120.4 L625.4 117.7 L627.4 115.1 L629.4 112.6 L631.4 110.1 L633.4 107.8 L635.4 105.6 L637.4 103.4 L639.4 101.3 L641.4 99.4 L643.4 97.5 L645.4 95.7 L647.4 94.0 L649.4 92.4 L651.4 90.9 L653.4 89.5 L655.4 88.1 L657.4 86.9 L659.4 85.8 L661.4 84.7 L663.4 83.8 L665.4 82.9 L667.4 82.1 L669.4 81.5 L671.4 80.9 L673.4 80.4 L675.4 80.0 L677.4 79.7 L679.4 79.5 L681.4 79.4 L683.4 79.4 L685.4 79.4 L687.4 79.6 L689.4 79.9 L691.4 80.2 L693.4 80.7 L695.4 81.2 L697.4 81.9 L699.4 82.6 L701.4 83.4 L703.4 84.4 L705.4 85.4 L707.4 86.5 L709.4 87.6 L711.4 88.9 L713.4 90.3 L715.4 91.7 L717.4 93.2 L719.4 94.8 L721.4 96.4 L723.4 98.2 L725.4 100.0 L727.4 101.9 L729.4 103.8 L731.4 105.9 L733.4 108.0 L735.4 110.1 L737.4 112.3 L739.4 114.6 L741.4 117.0 L743.4 119.4 L745.4 121.9 L747.4 124.4 L749.4 127.0 L751.4 129.6 L753.4 132.3 L755.4 135.1 L757.4 137.9 L759.4 140.7 L761.4 143.6 L763.4 146.5 L765.4 149.5 L767.4 152.6 L769.4 155.6 L771.4 158.7 L773.4 161.9 L775.4 165.1 L777.4 168.3 L779.4 171.5 L781.4 174.8 L783.4 178.1 L785.4 181.5 L787.4 184.9 L789.4 188.3 L791.4 191.7 L793.4 195.1 L795.4 198.6 L797.4 202.1 L799.4 205.6 L801.4 209.2 L803.4 212.7 L805.4 216.3 L807.4 219.9 L809.4 223.5 L811.4 227.1 L813.4 230.7 L815.4 234.3 L817.4 237.9 L819.4 241.5 L821.4 245.2 L823.4 248.8 L825.4 252.5 L827.4 256.1 L829.4 259.7 L831.4 263.3 L833.4 267.0 L835.4 270.6 L837.4 274.2 L839.4 277.8 L841.4 281.4 L843.4 285.0 L845.4 288.5 L847.4 292.1 L849.4 295.6 L851.4 299.1 L853.4 302.7 L855.4 306.2 L857.4 309.6 L859.4 313.1 L861.4 316.6 L863.4 320.0 L865.4 323.4 L867.4 326.8 L869.4 330.2 L871.4 333.6 L873.4 336.9 L875.4 340.3 L877.4 343.6 L879.4 346.9 L881.4 350.2 L883.4 353.4 L885.4 356.6 L887.4 359.9 L889.4 363.0 L891.4 366.2 L893.4 369.4 L895.4 372.5 L897.4 375.6 L899.4 378.7 L901.4 381.7 L903.4 384.8 L905.4 387.8 L907.4 390.8 L909.4 393.8 L911.4 396.8 L913.4 399.7 L915.4 402.7 L917.4 405.6 L919.4 408.5 L921.4 411.4 L923.4 414.3 L925.4 417.1 L927.4 420.0 L929.4 422.8 L931.4 425.6 L933.4 428.4 L935.4 431.2 L937.4 433.9 L939.4 436.7 L941.4 439.4 L943.4 442.2 L945.4 444.9 L947.4 447.6 L949.4 450.3 L951.4 452.9 L953.4 455.6 L955.4 458.3 L957.4 460.9 L959.4 463.6 L961.4 466.2 L963.4 468.8 L965.4 471.4 L967.4 474.0 L969.4 476.6 L971.4 479.2 L973.4 481.8 L975.4 484.4 L977.4 487.0 L979.4 489.5 L981.4 492.1 L983.4 494.6 L985.4 497.2 L987.4 499.7 L989.4 502.3 L991.4 504.8 L993.4 507.3 L995.4 509.9 L997.4 512.4 L999.4 514.9 L1001.4 517.4 L1003.4 519.9 L1005.4 522.4 L1007.4 524.9 L1009.4 527.5 L1011.4 530.0 L1013.4 532.5 L1015.4 535.0 L1017.4 537.5 L1019.4 540.0 L1021.4 542.5 L1023.4 545.0 L1025.4 547.5 L1027.4 550.0 L1029.4 552.5 L1031.4 555.0 L1033.4 557.5 L1035.4 560.0 L1037.4 562.5 L1039.4 565.0 L1041.4 567.5 L1043.4 570.0 L1045.4 572.5 L1047.4 575.1 L1049.4 577.6 L1051.4 580.1 L1053.4 582.6 L1055.4 585.2 L1057.4 587.7 L1059.4 590.3 L1061.4 592.8 L1063.4 595.4 L1065.4 597.9 L1067.4 600.5 L1069.4 603.1 L1071.4 605.7 L1073.4 608.2 L1075.4 610.8 L1077.4 613.4 L1079.4 616.0 L1081.4 618.6 L1083.4 621.3 L1085.4 623.9 L1087.4 626.5 L1089.4 629.2 L1091.4 631.8 L1093.4 634.5 L1095.4 637.1 L1097.4 639.8 L1099.4 642.5 L1101.4 645.2 L1103.4 647.9 L1105.4 650.6 L1107.4 653.3 L1109.4 656.1 L1111.4 658.8 L1113.4 661.6 L1115.4 664.3 L1117.4 667.1 L1119.4 669.9 L1121.4 672.7 L1123.4 675.5 L1125.4 678.3 L1127.4 681.1 L1129.4 684.0 L1131.4 686.8 L1133.4 689.7 L1135.4 692.5 L1137.4 695.4 L1139.4 698.3 L1141.4 701.1 L1143.4 704.0 L1145.4 706.9 L1147.4 709.8 L1149.4 712.7 L1151.4 715.6 L1153.4 718.5 L1155.4 721.4 L1157.4 724.4 L1159.4 727.3 L1161.4 730.2 L1163.4 733.2 L1165.4 736.1 L1167.4 739.0 L1169.4 742.0 L1171.4 744.9 L1173.4 747.9 L1175.4 750.8 L1177.4 753.8 L1179.4 756.7 L1181.4 759.7 L1183.4 762.6 L1185.4 765.6 L1187.4 768.5 L1189.4 771.4 L1191.4 774.4 L1193.4 777.3 L1195.4 780.3 L1197.4 783.2 L1199.4 786.2 L1201.4 789.1 L1203.4 792.0 L1205.4 795.0 L1207.4 797.9 L1209.4 800.8 L1211.4 803.7 L1213.4 806.6 L1215.4 809.5 L1217.4 812.4 L1219.4 815.3 L1221.4 818.2 L1223.4 821.1 L1225.4 824.0 L1227.4 826.9 L1229.4 829.7 L1231.4 832.6 L1233.4 835.4 L1235.4 838.3 L1237.4 841.1 L1239.4 843.9 L1241.4 846.7 L1243.4 849.5 L1245.4 852.3 L1247.4 855.1 L1249.4 857.9 L1251.4 860.7 L1253.4 863.4 L1255.4 866.1 L1257.4 868.9 L1259.4 871.6 L1261.4 874.3 L1263.4 877.0 L1265.4 879.7 L1267.4 882.3 L1269.4 885.0 L1271.4 887.6 L1273.4 890.3 L1275.4 892.9 L1277.4 895.5 L1279.4 898.1 L1281.4 900.7 L1283.4 903.2 L1285.4 905.8 L1287.4 908.3 L1289.4 910.8 L1291.4 913.4 L1293.4 915.9 L1295.4 918.3 L1297.4 920.8 L1299.4 923.3 L1301.4 925.7 L1303.4 928.2 L1305.4 930.6 L1307.4 933.0 L1309.4 935.4 L1311.4 937.7 L1313.4 940.1 L1315.4 942.4 L1317.4 944.8 L1319.4 947.1 L1321.4 949.4 L1323.4 951.7 L1325.4 953.9 L1327.4 956.2 L1329.4 958.4 L1331.4 960.7 L1333.4 962.9 L1335.4 965.1 L1337.4 967.2 L1339.4 969.4 L1341.4 971.6 L1343.4 973.7 L1345.4 975.8 L1347.4 977.9 L1349.4 980.0 L1351.4 982.1 L1353.4 984.1 L1355.4 986.1 L1357.4 988.2 L1359.4 990.2 L1361.4 992.2 L1363.4 994.1 L1365.4 996.1 L1367.4 998.0 L1369.4 999.9 L1371.4 1001.8 L1373.4 1003.7 L1375.4 1005.6 L1377.4 1007.4 L1379.4 1009.3 L1381.4 1011.1 L1383.4 1012.9 L1385.4 1014.7 L1387.4 1016.4 L1389.4 1018.2 L1391.4 1019.9 L1393.4 1021.6 L1395.4 1023.3 L1397.4 1025.0 L1399.4 1026.6 L1401.4 1028.2 L1403.4 1029.9 L1405.4 1031.5 L1407.4 1033.0 L1409.4 1034.6 L1411.4 1036.1 L1413.4 1037.7 L1415.4 1039.2 L1417.4 1040.7 L1419.4 1042.1 L1421.4 1043.6 L1423.4 1045.0 L1425.4 1046.4 L1427.4 1047.8 L1429.4 1049.2 L1431.4 1050.6 L1433.4 1051.9 L1435.4 1053.2 L1437.4 1054.6 L1439.4 1055.9 L1441.4 1057.1 L1443.4 1058.4 L1445.4 1059.7 L1447.4 1060.9 L1449.4 1062.1 L1451.4 1063.3 L1453.4 1064.5 L1455.4 1065.7 L1457.4 1066.8 L1459.4 1068.0 L1461.4 1069.1 L1463.4 1070.2 L1465.4 1071.3 L1467.4 1072.4 L1469.4 1073.4 L1471.4 1074.5 L1473.4 1075.5 L1475.4 1076.5 L1477.4 1077.5 L1479.4 1078.5 L1481.4 1079.5 L1483.4 1080.5 L1485.4 1081.4 L1487.4 1082.4 L1489.4 1083.3 L1491.4 1084.2 L1493.4 1085.1 L1495.4 1086.0 L1497.4 1086.9 L1499.4 1087.7 L1501.4 1088.6 L1503.4 1089.4 L1505.4 1090.3 L1507.4 1091.1 L1509.4 1091.9 L1511.4 1092.7 L1513.4 1093.4 L1515.4 1094.2 L1517.4 1095.0 L1519.4 1095.7 L1521.4 1096.4 L1523.4 1097.1 L1525.4 1097.9 L1527.4 1098.6 L1529.4 1099.2 L1531.4 1099.9 L1533.4 1100.6 L1535.4 1101.2 L1537.4 1101.9 L1539.4 1102.5 L1541.4 1103.2 L1543.4 1103.8 L1545.4 1104.4 L1547.4 1105.0 L1549.4 1105.6 L1551.4 1106.1 L1553.4 1106.7 L1555.4 1107.3 L1557.4 1107.8 L1559.4 1108.4 L1561.4 1108.9 L1563.4 1109.4 L1565.4 1110.0 L1567.4 1110.5 L1569.4 1111.0 L1571.4 1111.5 L1573.4 1112.0 L1575.4 1112.4 L1577.4 1112.9 L1579.4 1113.4 L1581.4 1113.8 L1583.4 1114.3 L1585.4 1114.7 L1587.4 1115.2 L1589.4 1115.6 L1591.4 1116.0 L1593.4 1116.4 L1595.4 1116.8 L1597.4 1117.2 L1599.4 1117.6 L1601.4 1118.0 L1603.4 1118.4 L1605.4 1118.8 L1607.4 1119.2 L1609.4 1119.5 L1611.4 1119.9 L1613.4 1120.3 L1615.4 1120.6 L1617.4 1121.0 L1619.4 1121.3 L1621.4 1121.7 L1623.4 1122.0 L1625.4 1122.3 L1627.4 1122.7 L1629.4 1123.0 L1631.4 1123.3 L1633.4 1123.6 L1635.4 1123.9 L1637.4 1124.2 L1639.4 1124.5 L1641.4 1124.8 L1643.4 1125.1 L1645.4 1125.4 L1647.4 1125.7 L1649.4 1126.0 L1651.4 1126.3 L1653.4 1126.6 L1655.4 1126.9 L1657.4 1127.1 L1659.4 1127.4 L1661.4 1127.7 L1663.4 1128.0 L1665.4 1128.2 L1667.4 1128.5 L1669.4 1128.8 L1671.4 1129.0 L1673.4 1129.3 L1675.4 1129.6 L1677.4 1129.8 L1679.4 1130.1 L1680.0 1130.2" fill="none" stroke="#0000FF" stroke-width="5" stroke-linejoin="round" shape-rendering="crispEdges"/>
<line x1="652.3" y1="345.4" x2="675.6" y2="305.1" stroke="#000" stroke-width="1.2" shape-rendering="crispEdges"/>
<line x1="1003.3" y1="703.4" x2="1144.6" y2="532" stroke="#000" stroke-width="1.2" shape-rendering="crispEdges"/>
<line x1="374.3" y1="1021.5" x2="521.8" y2="915.2" stroke="#000" stroke-width="1.2" shape-rendering="crispEdges"/>
<g shape-rendering="crispEdges" fill="#000">
<rect x="165" y="24" width="1523" height="3"/>
<rect x="165" y="1186" width="1523" height="2"/>
<rect x="166" y="24" width="2" height="1164"/>
<rect x="1685" y="24" width="2" height="1164"/>
<rect x="172.0" y="1187" width="2" height="25"/>
<rect x="247.4" y="1187" width="2" height="13"/>
<rect x="322.7" y="1187" width="2" height="13"/>
<rect x="398.1" y="1187" width="2" height="13"/>
<rect x="473.4" y="1187" width="2" height="13"/>
<rect x="548.8" y="1187" width="2" height="25"/>
<rect x="624.2" y="1187" width="2" height="13"/>
<rect x="699.5" y="1187" width="2" height="13"/>
<rect x="774.9" y="1187" width="2" height="13"/>
<rect x="850.2" y="1187" width="2" height="13"/>
<rect x="925.6" y="1187" width="2" height="25"/>
<rect x="1001.0" y="1187" width="2" height="13"/>
<rect x="1076.3" y="1187" width="2" height="13"/>
<rect x="1151.7" y="1187" width="2" height="13"/>
<rect x="1227.0" y="1187" width="2" height="13"/>
<rect x="1302.4" y="1187" width="2" height="25"/>
<rect x="1377.8" y="1187" width="2" height="13"/>
<rect x="1453.1" y="1187" width="2" height="13"/>
<rect x="1528.5" y="1187" width="2" height="13"/>
<rect x="1603.8" y="1187" width="2" height="13"/>
<rect x="1679.2" y="1187" width="2" height="25"/>
</g>
<text font-family="Liberation Serif, serif" font-weight="bold" fill="#000"><tspan x="708.55" y="1372.90" font-size="85.28" textLength="46.03" lengthAdjust="spacingAndGlyphs">E</tspan><tspan x="754.51" y="1372.90" font-size="89.57" textLength="49.95" lengthAdjust="spacingAndGlyphs">n</tspan><tspan x="805.62" y="1373.00" font-size="89.79" textLength="45.04" lengthAdjust="spacingAndGlyphs">e</tspan><tspan x="850.57" y="1372.90" font-size="88.94" textLength="40.51" lengthAdjust="spacingAndGlyphs">r</tspan><tspan x="888.45" y="1372.90" font-size="81.82" textLength="45.97" lengthAdjust="spacingAndGlyphs">g</tspan><tspan x="932.84" y="1372.01" font-size="87.19" textLength="47.92" lengthAdjust="spacingAndGlyphs">y</tspan><tspan> </tspan><tspan x="999.36" y="1372.77" font-size="86.35" textLength="34.12" lengthAdjust="spacingAndGlyphs">(</tspan><tspan x="1031.50" y="1372.81" font-size="89.38" textLength="45.27" lengthAdjust="spacingAndGlyphs">e</tspan><tspan x="1076.13" y="1371.61" font-size="83.32" textLength="55.61" lengthAdjust="spacingAndGlyphs">V</tspan><tspan x="1128.62" y="1372.77" font-size="86.35" textLength="33.73" lengthAdjust="spacingAndGlyphs">)</tspan></text>
<text font-family="Liberation Serif, serif" font-weight="bold" fill="#000"><tspan x="605.37" y="294.00" font-size="51.26" textLength="28.06" lengthAdjust="spacingAndGlyphs">2</tspan><tspan x="634.99" y="293.32" font-size="51.25" textLength="11.02" lengthAdjust="spacingAndGlyphs">.</tspan><tspan x="645.98" y="294.00" font-size="51.52" textLength="31.36" lengthAdjust="spacingAndGlyphs">1</tspan><tspan> </tspan><tspan x="686.67" y="293.77" font-size="52.92" textLength="26.98" lengthAdjust="spacingAndGlyphs">e</tspan><tspan x="713.44" y="293.16" font-size="50.50" textLength="33.12" lengthAdjust="spacingAndGlyphs">V</tspan></text>
<text font-family="Liberation Serif, serif" font-weight="bold" fill="#000"><tspan x="1074.35" y="520.80" font-size="51.11" textLength="28.31" lengthAdjust="spacingAndGlyphs">2</tspan><tspan x="1104.99" y="520.15" font-size="48.75" textLength="11.02" lengthAdjust="spacingAndGlyphs">.</tspan><tspan x="1116.88" y="521.28" font-size="51.98" textLength="28.85" lengthAdjust="spacingAndGlyphs">6</tspan><tspan> </tspan><tspan x="1156.47" y="521.26" font-size="53.54" textLength="26.98" lengthAdjust="spacingAndGlyphs">e</tspan><tspan x="1183.44" y="519.99" font-size="48.71" textLength="32.91" lengthAdjust="spacingAndGlyphs">V</tspan></text>
<text font-family="Liberation Serif, serif" font-weight="bold" fill="#000"><tspan x="450.84" y="903.00" font-size="51.67" textLength="31.64" lengthAdjust="spacingAndGlyphs">1</tspan><tspan x="481.72" y="902.33" font-size="50.00" textLength="12.55" lengthAdjust="spacingAndGlyphs">.</tspan><tspan x="493.85" y="903.28" font-size="51.83" textLength="29.31" lengthAdjust="spacingAndGlyphs">8</tspan><tspan> </tspan><tspan x="534.80" y="903.28" font-size="52.29" textLength="26.63" lengthAdjust="spacingAndGlyphs">e</tspan><tspan x="561.56" y="902.18" font-size="49.01" textLength="32.09" lengthAdjust="spacingAndGlyphs">V</tspan></text>
<text font-family="Liberation Serif, serif" font-weight="bold" fill="#000"><tspan x="137.04" y="1273.00" font-size="51.67" textLength="30.07" lengthAdjust="spacingAndGlyphs">1</tspan><tspan x="167.14" y="1272.33" font-size="50.00" textLength="10.71" lengthAdjust="spacingAndGlyphs">.</tspan><tspan x="179.83" y="1272.47" font-size="52.50" textLength="27.17" lengthAdjust="spacingAndGlyphs">5</tspan></text>
<text font-family="Liberation Serif, serif" font-weight="bold" fill="#000"><tspan x="514.48" y="1273.00" font-size="51.56" textLength="27.94" lengthAdjust="spacingAndGlyphs">2</tspan><tspan x="544.14" y="1272.33" font-size="50.00" textLength="10.71" lengthAdjust="spacingAndGlyphs">.</tspan><tspan x="555.73" y="1272.49" font-size="50.79" textLength="29.53" lengthAdjust="spacingAndGlyphs">0</tspan></text>
<text font-family="Liberation Serif, serif" font-weight="bold" fill="#000"><tspan x="891.39" y="1273.00" font-size="51.56" textLength="27.82" lengthAdjust="spacingAndGlyphs">2</tspan><tspan x="921.04" y="1272.33" font-size="50.00" textLength="10.71" lengthAdjust="spacingAndGlyphs">.</tspan><tspan x="933.50" y="1272.47" font-size="52.50" textLength="27.52" lengthAdjust="spacingAndGlyphs">5</tspan></text>
<text font-family="Liberation Serif, serif" font-weight="bold" fill="#000"><tspan x="1268.94" y="1272.49" font-size="50.79" textLength="26.74" lengthAdjust="spacingAndGlyphs">3</tspan><tspan x="1298.14" y="1272.33" font-size="50.00" textLength="10.71" lengthAdjust="spacingAndGlyphs">.</tspan><tspan x="1309.93" y="1272.49" font-size="50.79" textLength="28.24" lengthAdjust="spacingAndGlyphs">0</tspan></text>
<text font-family="Liberation Serif, serif" font-weight="bold" fill="#000"><tspan x="1644.84" y="1272.49" font-size="50.79" textLength="26.74" lengthAdjust="spacingAndGlyphs">3</tspan><tspan x="1674.54" y="1272.33" font-size="50.00" textLength="10.71" lengthAdjust="spacingAndGlyphs">.</tspan><tspan x="1687.83" y="1272.47" font-size="52.50" textLength="27.17" lengthAdjust="spacingAndGlyphs">5</tspan></text>
<text transform="rotate(-90)" font-family="Liberation Serif, serif" font-weight="bold" fill="#000"><tspan x="-1056.25" y="95.15" font-size="84.50" textLength="48.41" lengthAdjust="spacingAndGlyphs">C</tspan><tspan x="-1006.00" y="95.00" font-size="85.13" textLength="43.98" lengthAdjust="spacingAndGlyphs">L</tspan><tspan> </tspan><tspan x="-942.29" y="95.00" font-size="85.13" textLength="26.72" lengthAdjust="spacingAndGlyphs">I</tspan><tspan x="-913.39" y="95.10" font-size="87.66" textLength="49.95" lengthAdjust="spacingAndGlyphs">n</tspan><tspan x="-863.55" y="95.09" font-size="90.87" textLength="32.95" lengthAdjust="spacingAndGlyphs">t</tspan><tspan x="-831.34" y="95.12" font-size="87.71" textLength="43.19" lengthAdjust="spacingAndGlyphs">e</tspan><tspan x="-786.07" y="95.40" font-size="88.09" textLength="49.52" lengthAdjust="spacingAndGlyphs">n</tspan><tspan x="-734.71" y="95.12" font-size="87.50" textLength="36.43" lengthAdjust="spacingAndGlyphs">s</tspan><tspan x="-695.72" y="95.40" font-size="83.08" textLength="22.92" lengthAdjust="spacingAndGlyphs">i</tspan><tspan x="-670.49" y="95.09" font-size="90.87" textLength="31.78" lengthAdjust="spacingAndGlyphs">t</tspan><tspan x="-639.54" y="94.17" font-size="86.90" textLength="46.77" lengthAdjust="spacingAndGlyphs">y</tspan><tspan> </tspan><tspan x="-573.29" y="95.05" font-size="85.46" textLength="33.73" lengthAdjust="spacingAndGlyphs">(</tspan><tspan x="-542.17" y="95.22" font-size="88.12" textLength="46.00" lengthAdjust="spacingAndGlyphs">a</tspan><tspan x="-495.49" y="95.00" font-size="87.04" textLength="39.72" lengthAdjust="spacingAndGlyphs">r</tspan><tspan x="-456.38" y="95.64" font-size="86.16" textLength="49.17" lengthAdjust="spacingAndGlyphs">b</tspan><tspan x="-405.72" y="94.17" font-size="77.50" textLength="16.84" lengthAdjust="spacingAndGlyphs">.</tspan><tspan> </tspan><tspan x="-367.66" y="95.30" font-size="90.21" textLength="48.87" lengthAdjust="spacingAndGlyphs">u</tspan><tspan x="-317.39" y="95.10" font-size="87.66" textLength="49.95" lengthAdjust="spacingAndGlyphs">n</tspan><tspan x="-265.81" y="95.10" font-size="82.36" textLength="23.97" lengthAdjust="spacingAndGlyphs">i</tspan><tspan x="-240.59" y="95.09" font-size="90.87" textLength="31.67" lengthAdjust="spacingAndGlyphs">t</tspan><tspan x="-208.56" y="95.12" font-size="87.71" textLength="37.13" lengthAdjust="spacingAndGlyphs">s</tspan><tspan x="-172.39" y="94.98" font-size="85.35" textLength="33.86" lengthAdjust="spacingAndGlyphs">)</tspan></text>
</svg>
</body></html>
